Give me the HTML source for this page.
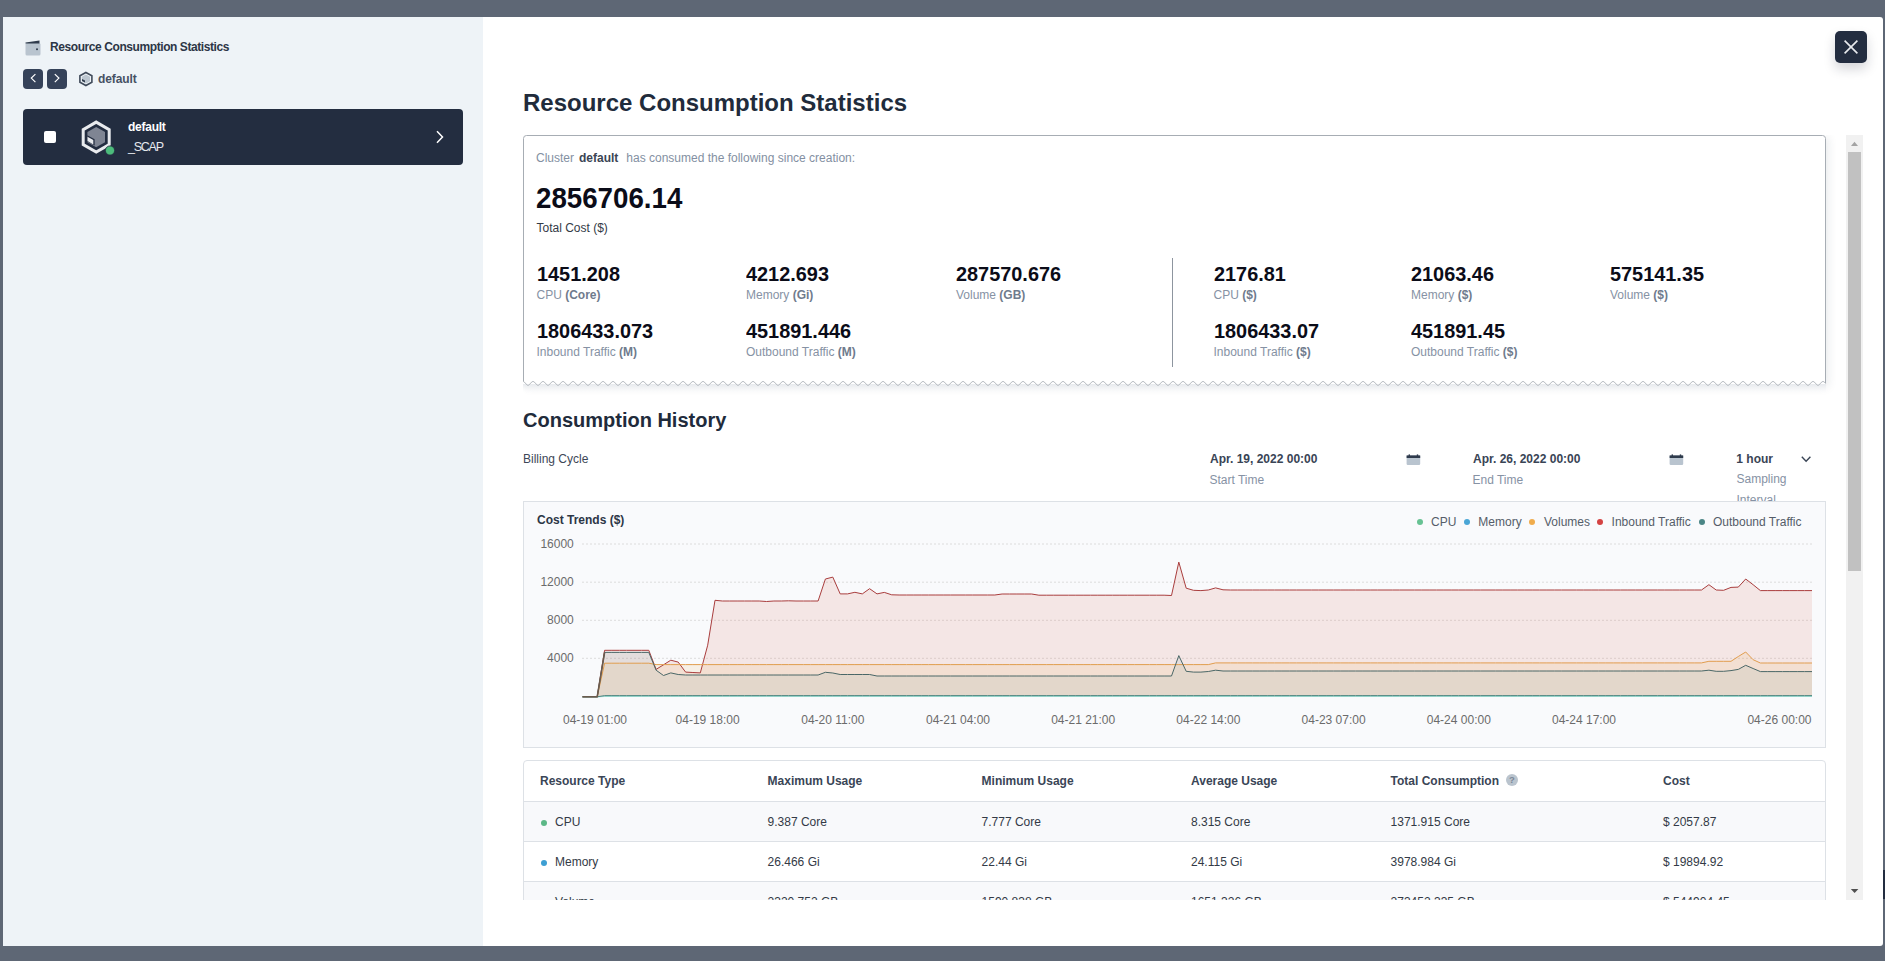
<!DOCTYPE html>
<html><head><meta charset="utf-8">
<style>
*{box-sizing:border-box}
html,body{margin:0;padding:0}
body{width:1885px;height:961px;overflow:hidden;background:#5e6775;font-family:"Liberation Sans",sans-serif;position:relative}
.a{position:absolute;white-space:nowrap;line-height:12px;font-size:12px}
#modal{position:absolute;left:3px;top:17px;width:1880px;height:929px;background:#fff;border-radius:3px;overflow:hidden}
#left{position:absolute;left:0;top:0;width:480px;height:929px;background:#eef3f7}
.navbtn{position:absolute;top:69px;width:20px;height:20px;background:#354259;border-radius:4px}
#card{position:absolute;left:23px;top:109px;width:440px;height:56px;background:#232d40;border-radius:4px}
#close{position:absolute;left:1835px;top:31px;width:32px;height:32px;background:#232d40;border-radius:5px;box-shadow:0 6px 12px rgba(20,30,50,.18)}
.lbl{color:#8692a4}
.lbl b{color:#6f7b8d}
.val{font-weight:bold;font-size:20px;line-height:20px;color:#0b0c18}
.th{font-weight:bold;color:#3a4556}
.td{color:#333a46}
</style></head>
<body>
<!-- left panel (page coords) -->
<div id="left" style="left:3px;top:17px"></div>
<div id="modalright" style="position:absolute;left:483px;top:17px;width:1400px;height:929px;background:#fff;border-radius:0 3px 3px 0"></div>

<!-- wallet icon -->
<svg class="a" style="left:25px;top:40px" width="16" height="16" viewBox="0 0 16 16">
  <rect x="0.5" y="3" width="15" height="12.5" rx="1.5" fill="#b9c4cf"/>
  <path d="M0.5 2.6 L14.5 0.6 L14.5 3.4 L0.5 3.6 Z" fill="#2f3b4c"/>
  <circle cx="12" cy="9.3" r="1" fill="#2f3b4c"/>
</svg>
<div class="a" style="left:50px;top:40.5px;font-weight:bold;color:#2c3646;letter-spacing:-0.42px">Resource Consumption Statistics</div>

<!-- nav buttons -->
<div class="navbtn" style="left:23px"></div>
<div class="navbtn" style="left:47px"></div>
<svg class="a" style="left:23px;top:69px" width="20" height="20"><path d="M12.4 5.1 L8.3 9.1 L12.4 13.1" fill="none" stroke="#fff" stroke-width="1.2"/></svg>
<svg class="a" style="left:47px;top:69px" width="20" height="20"><path d="M7.8 5.1 L11.9 9.1 L7.8 13.1" fill="none" stroke="#fff" stroke-width="1.2"/></svg>
<!-- hex small -->
<svg class="a" style="left:78px;top:71px" width="16" height="16" viewBox="0 0 16 16">
  <path d="M7.9 1.5 L13.9 4.8 L13.9 11.2 L7.9 14.5 L1.9 11.2 L1.9 4.8 Z" fill="none" stroke="#3f4a5a" stroke-width="1.6"/>
  <path d="M7.9 3.5 L12 5.8 L12 10.2 L7.9 12.5 L3.8 10.2 L3.8 5.8 Z" fill="#bcc6d0"/>
  <path d="M4.0 7.9 L7.0 9.6 L7.0 11.6 L4.0 9.9 Z" fill="#2f3b4c"/>
</svg>
<div class="a" style="left:98px;top:72.6px;font-weight:bold;color:#465163;letter-spacing:-0.1px">default</div>

<!-- dark card -->
<div id="card"></div>
<div class="a" style="left:44px;top:131px;width:12px;height:12px;background:#fff;border-radius:2px"></div>
<svg class="a" style="left:79px;top:119px" width="40" height="40" viewBox="0 0 40 40">
  <path d="M17.2 3.1 L30.2 10.6 L30.2 25.6 L17.2 33.1 L4.2 25.6 L4.2 10.6 Z" fill="none" stroke="#e9ebee" stroke-width="3"/>
  <path d="M17.2 7.9 L26.0 13.0 L26.0 23.2 L17.2 28.3 L8.4 23.2 L8.4 13.0 Z" fill="#7f8593"/>
  <path d="M8.3 16.2 L15.6 20.3 L15.6 26.6 L8.3 22.5 Z" fill="#232d40"/>
  <path d="M8.5 17.7 L14.3 21 L14.3 25.4 L8.5 22.1 Z" fill="#e9ebee"/>
  <circle cx="31" cy="31.5" r="4.6" fill="#4cbb7b" stroke="#232d40" stroke-width="0.8"/>
</svg>
<div class="a" style="left:128px;top:121px;font-weight:bold;color:#fff;letter-spacing:-0.25px">default</div>
<div class="a" style="left:128px;top:141.2px;color:#e6e9ee;letter-spacing:-1.25px;font-size:12.5px">_SCAP</div>
<svg class="a" style="left:432px;top:128px" width="14" height="18"><path d="M5 3.3 L10.5 9 L5 14.7" fill="none" stroke="#fff" stroke-width="1.5"/></svg>

<!-- close -->
<div id="close"></div>
<svg class="a" style="left:1835px;top:31px" width="32" height="32"><path d="M9.6 9.6 L22.4 22.4 M22.4 9.6 L9.6 22.4" stroke="#e8eaee" stroke-width="1.6"/></svg>

<!-- main title -->
<div class="a" style="left:523px;top:90.7px;font-size:24px;line-height:24px;font-weight:bold;color:#212b3b">Resource Consumption Statistics</div>

<!-- CONTENT -->
<div class="a" style="left:523px;top:135px;width:1303px;height:250px;background:#fff;box-shadow:2px 2px 9px rgba(30,45,70,.10);clip-path:inset(0px -30px -30px 2px)"></div>
<svg class="a" style="left:0;top:0" width="1885" height="961"><defs><linearGradient id="wg" x1="0" y1="0" x2="0" y2="1"><stop offset="0" stop-color="#e6e9ed"/><stop offset="1" stop-color="#fff" stop-opacity="0"/></linearGradient></defs><rect x="523" y="384" width="1303" height="10" fill="url(#wg)"/><path d="M523.5,381.59 L523.5,138.5 Q523.5,135.5 526.5,135.5 L1822.5,135.5 Q1825.5,135.5 1825.5,138.5 L1825.5,383.35 L1825.50,383.35 L1825.00,382.78 L1824.50,382.26 L1824.00,381.85 L1823.50,381.59 L1823.00,381.50 L1822.50,381.59 L1822.00,381.85 L1821.50,382.26 L1821.00,382.78 L1820.50,383.35 L1820.00,383.92 L1819.50,384.44 L1819.00,384.85 L1818.50,385.11 L1818.00,385.20 L1817.50,385.11 L1817.00,384.85 L1816.50,384.44 L1816.00,383.92 L1815.50,383.35 L1815.00,382.78 L1814.50,382.26 L1814.00,381.85 L1813.50,381.59 L1813.00,381.50 L1812.50,381.59 L1812.00,381.85 L1811.50,382.26 L1811.00,382.78 L1810.50,383.35 L1810.00,383.92 L1809.50,384.44 L1809.00,384.85 L1808.50,385.11 L1808.00,385.20 L1807.50,385.11 L1807.00,384.85 L1806.50,384.44 L1806.00,383.92 L1805.50,383.35 L1805.00,382.78 L1804.50,382.26 L1804.00,381.85 L1803.50,381.59 L1803.00,381.50 L1802.50,381.59 L1802.00,381.85 L1801.50,382.26 L1801.00,382.78 L1800.50,383.35 L1800.00,383.92 L1799.50,384.44 L1799.00,384.85 L1798.50,385.11 L1798.00,385.20 L1797.50,385.11 L1797.00,384.85 L1796.50,384.44 L1796.00,383.92 L1795.50,383.35 L1795.00,382.78 L1794.50,382.26 L1794.00,381.85 L1793.50,381.59 L1793.00,381.50 L1792.50,381.59 L1792.00,381.85 L1791.50,382.26 L1791.00,382.78 L1790.50,383.35 L1790.00,383.92 L1789.50,384.44 L1789.00,384.85 L1788.50,385.11 L1788.00,385.20 L1787.50,385.11 L1787.00,384.85 L1786.50,384.44 L1786.00,383.92 L1785.50,383.35 L1785.00,382.78 L1784.50,382.26 L1784.00,381.85 L1783.50,381.59 L1783.00,381.50 L1782.50,381.59 L1782.00,381.85 L1781.50,382.26 L1781.00,382.78 L1780.50,383.35 L1780.00,383.92 L1779.50,384.44 L1779.00,384.85 L1778.50,385.11 L1778.00,385.20 L1777.50,385.11 L1777.00,384.85 L1776.50,384.44 L1776.00,383.92 L1775.50,383.35 L1775.00,382.78 L1774.50,382.26 L1774.00,381.85 L1773.50,381.59 L1773.00,381.50 L1772.50,381.59 L1772.00,381.85 L1771.50,382.26 L1771.00,382.78 L1770.50,383.35 L1770.00,383.92 L1769.50,384.44 L1769.00,384.85 L1768.50,385.11 L1768.00,385.20 L1767.50,385.11 L1767.00,384.85 L1766.50,384.44 L1766.00,383.92 L1765.50,383.35 L1765.00,382.78 L1764.50,382.26 L1764.00,381.85 L1763.50,381.59 L1763.00,381.50 L1762.50,381.59 L1762.00,381.85 L1761.50,382.26 L1761.00,382.78 L1760.50,383.35 L1760.00,383.92 L1759.50,384.44 L1759.00,384.85 L1758.50,385.11 L1758.00,385.20 L1757.50,385.11 L1757.00,384.85 L1756.50,384.44 L1756.00,383.92 L1755.50,383.35 L1755.00,382.78 L1754.50,382.26 L1754.00,381.85 L1753.50,381.59 L1753.00,381.50 L1752.50,381.59 L1752.00,381.85 L1751.50,382.26 L1751.00,382.78 L1750.50,383.35 L1750.00,383.92 L1749.50,384.44 L1749.00,384.85 L1748.50,385.11 L1748.00,385.20 L1747.50,385.11 L1747.00,384.85 L1746.50,384.44 L1746.00,383.92 L1745.50,383.35 L1745.00,382.78 L1744.50,382.26 L1744.00,381.85 L1743.50,381.59 L1743.00,381.50 L1742.50,381.59 L1742.00,381.85 L1741.50,382.26 L1741.00,382.78 L1740.50,383.35 L1740.00,383.92 L1739.50,384.44 L1739.00,384.85 L1738.50,385.11 L1738.00,385.20 L1737.50,385.11 L1737.00,384.85 L1736.50,384.44 L1736.00,383.92 L1735.50,383.35 L1735.00,382.78 L1734.50,382.26 L1734.00,381.85 L1733.50,381.59 L1733.00,381.50 L1732.50,381.59 L1732.00,381.85 L1731.50,382.26 L1731.00,382.78 L1730.50,383.35 L1730.00,383.92 L1729.50,384.44 L1729.00,384.85 L1728.50,385.11 L1728.00,385.20 L1727.50,385.11 L1727.00,384.85 L1726.50,384.44 L1726.00,383.92 L1725.50,383.35 L1725.00,382.78 L1724.50,382.26 L1724.00,381.85 L1723.50,381.59 L1723.00,381.50 L1722.50,381.59 L1722.00,381.85 L1721.50,382.26 L1721.00,382.78 L1720.50,383.35 L1720.00,383.92 L1719.50,384.44 L1719.00,384.85 L1718.50,385.11 L1718.00,385.20 L1717.50,385.11 L1717.00,384.85 L1716.50,384.44 L1716.00,383.92 L1715.50,383.35 L1715.00,382.78 L1714.50,382.26 L1714.00,381.85 L1713.50,381.59 L1713.00,381.50 L1712.50,381.59 L1712.00,381.85 L1711.50,382.26 L1711.00,382.78 L1710.50,383.35 L1710.00,383.92 L1709.50,384.44 L1709.00,384.85 L1708.50,385.11 L1708.00,385.20 L1707.50,385.11 L1707.00,384.85 L1706.50,384.44 L1706.00,383.92 L1705.50,383.35 L1705.00,382.78 L1704.50,382.26 L1704.00,381.85 L1703.50,381.59 L1703.00,381.50 L1702.50,381.59 L1702.00,381.85 L1701.50,382.26 L1701.00,382.78 L1700.50,383.35 L1700.00,383.92 L1699.50,384.44 L1699.00,384.85 L1698.50,385.11 L1698.00,385.20 L1697.50,385.11 L1697.00,384.85 L1696.50,384.44 L1696.00,383.92 L1695.50,383.35 L1695.00,382.78 L1694.50,382.26 L1694.00,381.85 L1693.50,381.59 L1693.00,381.50 L1692.50,381.59 L1692.00,381.85 L1691.50,382.26 L1691.00,382.78 L1690.50,383.35 L1690.00,383.92 L1689.50,384.44 L1689.00,384.85 L1688.50,385.11 L1688.00,385.20 L1687.50,385.11 L1687.00,384.85 L1686.50,384.44 L1686.00,383.92 L1685.50,383.35 L1685.00,382.78 L1684.50,382.26 L1684.00,381.85 L1683.50,381.59 L1683.00,381.50 L1682.50,381.59 L1682.00,381.85 L1681.50,382.26 L1681.00,382.78 L1680.50,383.35 L1680.00,383.92 L1679.50,384.44 L1679.00,384.85 L1678.50,385.11 L1678.00,385.20 L1677.50,385.11 L1677.00,384.85 L1676.50,384.44 L1676.00,383.92 L1675.50,383.35 L1675.00,382.78 L1674.50,382.26 L1674.00,381.85 L1673.50,381.59 L1673.00,381.50 L1672.50,381.59 L1672.00,381.85 L1671.50,382.26 L1671.00,382.78 L1670.50,383.35 L1670.00,383.92 L1669.50,384.44 L1669.00,384.85 L1668.50,385.11 L1668.00,385.20 L1667.50,385.11 L1667.00,384.85 L1666.50,384.44 L1666.00,383.92 L1665.50,383.35 L1665.00,382.78 L1664.50,382.26 L1664.00,381.85 L1663.50,381.59 L1663.00,381.50 L1662.50,381.59 L1662.00,381.85 L1661.50,382.26 L1661.00,382.78 L1660.50,383.35 L1660.00,383.92 L1659.50,384.44 L1659.00,384.85 L1658.50,385.11 L1658.00,385.20 L1657.50,385.11 L1657.00,384.85 L1656.50,384.44 L1656.00,383.92 L1655.50,383.35 L1655.00,382.78 L1654.50,382.26 L1654.00,381.85 L1653.50,381.59 L1653.00,381.50 L1652.50,381.59 L1652.00,381.85 L1651.50,382.26 L1651.00,382.78 L1650.50,383.35 L1650.00,383.92 L1649.50,384.44 L1649.00,384.85 L1648.50,385.11 L1648.00,385.20 L1647.50,385.11 L1647.00,384.85 L1646.50,384.44 L1646.00,383.92 L1645.50,383.35 L1645.00,382.78 L1644.50,382.26 L1644.00,381.85 L1643.50,381.59 L1643.00,381.50 L1642.50,381.59 L1642.00,381.85 L1641.50,382.26 L1641.00,382.78 L1640.50,383.35 L1640.00,383.92 L1639.50,384.44 L1639.00,384.85 L1638.50,385.11 L1638.00,385.20 L1637.50,385.11 L1637.00,384.85 L1636.50,384.44 L1636.00,383.92 L1635.50,383.35 L1635.00,382.78 L1634.50,382.26 L1634.00,381.85 L1633.50,381.59 L1633.00,381.50 L1632.50,381.59 L1632.00,381.85 L1631.50,382.26 L1631.00,382.78 L1630.50,383.35 L1630.00,383.92 L1629.50,384.44 L1629.00,384.85 L1628.50,385.11 L1628.00,385.20 L1627.50,385.11 L1627.00,384.85 L1626.50,384.44 L1626.00,383.92 L1625.50,383.35 L1625.00,382.78 L1624.50,382.26 L1624.00,381.85 L1623.50,381.59 L1623.00,381.50 L1622.50,381.59 L1622.00,381.85 L1621.50,382.26 L1621.00,382.78 L1620.50,383.35 L1620.00,383.92 L1619.50,384.44 L1619.00,384.85 L1618.50,385.11 L1618.00,385.20 L1617.50,385.11 L1617.00,384.85 L1616.50,384.44 L1616.00,383.92 L1615.50,383.35 L1615.00,382.78 L1614.50,382.26 L1614.00,381.85 L1613.50,381.59 L1613.00,381.50 L1612.50,381.59 L1612.00,381.85 L1611.50,382.26 L1611.00,382.78 L1610.50,383.35 L1610.00,383.92 L1609.50,384.44 L1609.00,384.85 L1608.50,385.11 L1608.00,385.20 L1607.50,385.11 L1607.00,384.85 L1606.50,384.44 L1606.00,383.92 L1605.50,383.35 L1605.00,382.78 L1604.50,382.26 L1604.00,381.85 L1603.50,381.59 L1603.00,381.50 L1602.50,381.59 L1602.00,381.85 L1601.50,382.26 L1601.00,382.78 L1600.50,383.35 L1600.00,383.92 L1599.50,384.44 L1599.00,384.85 L1598.50,385.11 L1598.00,385.20 L1597.50,385.11 L1597.00,384.85 L1596.50,384.44 L1596.00,383.92 L1595.50,383.35 L1595.00,382.78 L1594.50,382.26 L1594.00,381.85 L1593.50,381.59 L1593.00,381.50 L1592.50,381.59 L1592.00,381.85 L1591.50,382.26 L1591.00,382.78 L1590.50,383.35 L1590.00,383.92 L1589.50,384.44 L1589.00,384.85 L1588.50,385.11 L1588.00,385.20 L1587.50,385.11 L1587.00,384.85 L1586.50,384.44 L1586.00,383.92 L1585.50,383.35 L1585.00,382.78 L1584.50,382.26 L1584.00,381.85 L1583.50,381.59 L1583.00,381.50 L1582.50,381.59 L1582.00,381.85 L1581.50,382.26 L1581.00,382.78 L1580.50,383.35 L1580.00,383.92 L1579.50,384.44 L1579.00,384.85 L1578.50,385.11 L1578.00,385.20 L1577.50,385.11 L1577.00,384.85 L1576.50,384.44 L1576.00,383.92 L1575.50,383.35 L1575.00,382.78 L1574.50,382.26 L1574.00,381.85 L1573.50,381.59 L1573.00,381.50 L1572.50,381.59 L1572.00,381.85 L1571.50,382.26 L1571.00,382.78 L1570.50,383.35 L1570.00,383.92 L1569.50,384.44 L1569.00,384.85 L1568.50,385.11 L1568.00,385.20 L1567.50,385.11 L1567.00,384.85 L1566.50,384.44 L1566.00,383.92 L1565.50,383.35 L1565.00,382.78 L1564.50,382.26 L1564.00,381.85 L1563.50,381.59 L1563.00,381.50 L1562.50,381.59 L1562.00,381.85 L1561.50,382.26 L1561.00,382.78 L1560.50,383.35 L1560.00,383.92 L1559.50,384.44 L1559.00,384.85 L1558.50,385.11 L1558.00,385.20 L1557.50,385.11 L1557.00,384.85 L1556.50,384.44 L1556.00,383.92 L1555.50,383.35 L1555.00,382.78 L1554.50,382.26 L1554.00,381.85 L1553.50,381.59 L1553.00,381.50 L1552.50,381.59 L1552.00,381.85 L1551.50,382.26 L1551.00,382.78 L1550.50,383.35 L1550.00,383.92 L1549.50,384.44 L1549.00,384.85 L1548.50,385.11 L1548.00,385.20 L1547.50,385.11 L1547.00,384.85 L1546.50,384.44 L1546.00,383.92 L1545.50,383.35 L1545.00,382.78 L1544.50,382.26 L1544.00,381.85 L1543.50,381.59 L1543.00,381.50 L1542.50,381.59 L1542.00,381.85 L1541.50,382.26 L1541.00,382.78 L1540.50,383.35 L1540.00,383.92 L1539.50,384.44 L1539.00,384.85 L1538.50,385.11 L1538.00,385.20 L1537.50,385.11 L1537.00,384.85 L1536.50,384.44 L1536.00,383.92 L1535.50,383.35 L1535.00,382.78 L1534.50,382.26 L1534.00,381.85 L1533.50,381.59 L1533.00,381.50 L1532.50,381.59 L1532.00,381.85 L1531.50,382.26 L1531.00,382.78 L1530.50,383.35 L1530.00,383.92 L1529.50,384.44 L1529.00,384.85 L1528.50,385.11 L1528.00,385.20 L1527.50,385.11 L1527.00,384.85 L1526.50,384.44 L1526.00,383.92 L1525.50,383.35 L1525.00,382.78 L1524.50,382.26 L1524.00,381.85 L1523.50,381.59 L1523.00,381.50 L1522.50,381.59 L1522.00,381.85 L1521.50,382.26 L1521.00,382.78 L1520.50,383.35 L1520.00,383.92 L1519.50,384.44 L1519.00,384.85 L1518.50,385.11 L1518.00,385.20 L1517.50,385.11 L1517.00,384.85 L1516.50,384.44 L1516.00,383.92 L1515.50,383.35 L1515.00,382.78 L1514.50,382.26 L1514.00,381.85 L1513.50,381.59 L1513.00,381.50 L1512.50,381.59 L1512.00,381.85 L1511.50,382.26 L1511.00,382.78 L1510.50,383.35 L1510.00,383.92 L1509.50,384.44 L1509.00,384.85 L1508.50,385.11 L1508.00,385.20 L1507.50,385.11 L1507.00,384.85 L1506.50,384.44 L1506.00,383.92 L1505.50,383.35 L1505.00,382.78 L1504.50,382.26 L1504.00,381.85 L1503.50,381.59 L1503.00,381.50 L1502.50,381.59 L1502.00,381.85 L1501.50,382.26 L1501.00,382.78 L1500.50,383.35 L1500.00,383.92 L1499.50,384.44 L1499.00,384.85 L1498.50,385.11 L1498.00,385.20 L1497.50,385.11 L1497.00,384.85 L1496.50,384.44 L1496.00,383.92 L1495.50,383.35 L1495.00,382.78 L1494.50,382.26 L1494.00,381.85 L1493.50,381.59 L1493.00,381.50 L1492.50,381.59 L1492.00,381.85 L1491.50,382.26 L1491.00,382.78 L1490.50,383.35 L1490.00,383.92 L1489.50,384.44 L1489.00,384.85 L1488.50,385.11 L1488.00,385.20 L1487.50,385.11 L1487.00,384.85 L1486.50,384.44 L1486.00,383.92 L1485.50,383.35 L1485.00,382.78 L1484.50,382.26 L1484.00,381.85 L1483.50,381.59 L1483.00,381.50 L1482.50,381.59 L1482.00,381.85 L1481.50,382.26 L1481.00,382.78 L1480.50,383.35 L1480.00,383.92 L1479.50,384.44 L1479.00,384.85 L1478.50,385.11 L1478.00,385.20 L1477.50,385.11 L1477.00,384.85 L1476.50,384.44 L1476.00,383.92 L1475.50,383.35 L1475.00,382.78 L1474.50,382.26 L1474.00,381.85 L1473.50,381.59 L1473.00,381.50 L1472.50,381.59 L1472.00,381.85 L1471.50,382.26 L1471.00,382.78 L1470.50,383.35 L1470.00,383.92 L1469.50,384.44 L1469.00,384.85 L1468.50,385.11 L1468.00,385.20 L1467.50,385.11 L1467.00,384.85 L1466.50,384.44 L1466.00,383.92 L1465.50,383.35 L1465.00,382.78 L1464.50,382.26 L1464.00,381.85 L1463.50,381.59 L1463.00,381.50 L1462.50,381.59 L1462.00,381.85 L1461.50,382.26 L1461.00,382.78 L1460.50,383.35 L1460.00,383.92 L1459.50,384.44 L1459.00,384.85 L1458.50,385.11 L1458.00,385.20 L1457.50,385.11 L1457.00,384.85 L1456.50,384.44 L1456.00,383.92 L1455.50,383.35 L1455.00,382.78 L1454.50,382.26 L1454.00,381.85 L1453.50,381.59 L1453.00,381.50 L1452.50,381.59 L1452.00,381.85 L1451.50,382.26 L1451.00,382.78 L1450.50,383.35 L1450.00,383.92 L1449.50,384.44 L1449.00,384.85 L1448.50,385.11 L1448.00,385.20 L1447.50,385.11 L1447.00,384.85 L1446.50,384.44 L1446.00,383.92 L1445.50,383.35 L1445.00,382.78 L1444.50,382.26 L1444.00,381.85 L1443.50,381.59 L1443.00,381.50 L1442.50,381.59 L1442.00,381.85 L1441.50,382.26 L1441.00,382.78 L1440.50,383.35 L1440.00,383.92 L1439.50,384.44 L1439.00,384.85 L1438.50,385.11 L1438.00,385.20 L1437.50,385.11 L1437.00,384.85 L1436.50,384.44 L1436.00,383.92 L1435.50,383.35 L1435.00,382.78 L1434.50,382.26 L1434.00,381.85 L1433.50,381.59 L1433.00,381.50 L1432.50,381.59 L1432.00,381.85 L1431.50,382.26 L1431.00,382.78 L1430.50,383.35 L1430.00,383.92 L1429.50,384.44 L1429.00,384.85 L1428.50,385.11 L1428.00,385.20 L1427.50,385.11 L1427.00,384.85 L1426.50,384.44 L1426.00,383.92 L1425.50,383.35 L1425.00,382.78 L1424.50,382.26 L1424.00,381.85 L1423.50,381.59 L1423.00,381.50 L1422.50,381.59 L1422.00,381.85 L1421.50,382.26 L1421.00,382.78 L1420.50,383.35 L1420.00,383.92 L1419.50,384.44 L1419.00,384.85 L1418.50,385.11 L1418.00,385.20 L1417.50,385.11 L1417.00,384.85 L1416.50,384.44 L1416.00,383.92 L1415.50,383.35 L1415.00,382.78 L1414.50,382.26 L1414.00,381.85 L1413.50,381.59 L1413.00,381.50 L1412.50,381.59 L1412.00,381.85 L1411.50,382.26 L1411.00,382.78 L1410.50,383.35 L1410.00,383.92 L1409.50,384.44 L1409.00,384.85 L1408.50,385.11 L1408.00,385.20 L1407.50,385.11 L1407.00,384.85 L1406.50,384.44 L1406.00,383.92 L1405.50,383.35 L1405.00,382.78 L1404.50,382.26 L1404.00,381.85 L1403.50,381.59 L1403.00,381.50 L1402.50,381.59 L1402.00,381.85 L1401.50,382.26 L1401.00,382.78 L1400.50,383.35 L1400.00,383.92 L1399.50,384.44 L1399.00,384.85 L1398.50,385.11 L1398.00,385.20 L1397.50,385.11 L1397.00,384.85 L1396.50,384.44 L1396.00,383.92 L1395.50,383.35 L1395.00,382.78 L1394.50,382.26 L1394.00,381.85 L1393.50,381.59 L1393.00,381.50 L1392.50,381.59 L1392.00,381.85 L1391.50,382.26 L1391.00,382.78 L1390.50,383.35 L1390.00,383.92 L1389.50,384.44 L1389.00,384.85 L1388.50,385.11 L1388.00,385.20 L1387.50,385.11 L1387.00,384.85 L1386.50,384.44 L1386.00,383.92 L1385.50,383.35 L1385.00,382.78 L1384.50,382.26 L1384.00,381.85 L1383.50,381.59 L1383.00,381.50 L1382.50,381.59 L1382.00,381.85 L1381.50,382.26 L1381.00,382.78 L1380.50,383.35 L1380.00,383.92 L1379.50,384.44 L1379.00,384.85 L1378.50,385.11 L1378.00,385.20 L1377.50,385.11 L1377.00,384.85 L1376.50,384.44 L1376.00,383.92 L1375.50,383.35 L1375.00,382.78 L1374.50,382.26 L1374.00,381.85 L1373.50,381.59 L1373.00,381.50 L1372.50,381.59 L1372.00,381.85 L1371.50,382.26 L1371.00,382.78 L1370.50,383.35 L1370.00,383.92 L1369.50,384.44 L1369.00,384.85 L1368.50,385.11 L1368.00,385.20 L1367.50,385.11 L1367.00,384.85 L1366.50,384.44 L1366.00,383.92 L1365.50,383.35 L1365.00,382.78 L1364.50,382.26 L1364.00,381.85 L1363.50,381.59 L1363.00,381.50 L1362.50,381.59 L1362.00,381.85 L1361.50,382.26 L1361.00,382.78 L1360.50,383.35 L1360.00,383.92 L1359.50,384.44 L1359.00,384.85 L1358.50,385.11 L1358.00,385.20 L1357.50,385.11 L1357.00,384.85 L1356.50,384.44 L1356.00,383.92 L1355.50,383.35 L1355.00,382.78 L1354.50,382.26 L1354.00,381.85 L1353.50,381.59 L1353.00,381.50 L1352.50,381.59 L1352.00,381.85 L1351.50,382.26 L1351.00,382.78 L1350.50,383.35 L1350.00,383.92 L1349.50,384.44 L1349.00,384.85 L1348.50,385.11 L1348.00,385.20 L1347.50,385.11 L1347.00,384.85 L1346.50,384.44 L1346.00,383.92 L1345.50,383.35 L1345.00,382.78 L1344.50,382.26 L1344.00,381.85 L1343.50,381.59 L1343.00,381.50 L1342.50,381.59 L1342.00,381.85 L1341.50,382.26 L1341.00,382.78 L1340.50,383.35 L1340.00,383.92 L1339.50,384.44 L1339.00,384.85 L1338.50,385.11 L1338.00,385.20 L1337.50,385.11 L1337.00,384.85 L1336.50,384.44 L1336.00,383.92 L1335.50,383.35 L1335.00,382.78 L1334.50,382.26 L1334.00,381.85 L1333.50,381.59 L1333.00,381.50 L1332.50,381.59 L1332.00,381.85 L1331.50,382.26 L1331.00,382.78 L1330.50,383.35 L1330.00,383.92 L1329.50,384.44 L1329.00,384.85 L1328.50,385.11 L1328.00,385.20 L1327.50,385.11 L1327.00,384.85 L1326.50,384.44 L1326.00,383.92 L1325.50,383.35 L1325.00,382.78 L1324.50,382.26 L1324.00,381.85 L1323.50,381.59 L1323.00,381.50 L1322.50,381.59 L1322.00,381.85 L1321.50,382.26 L1321.00,382.78 L1320.50,383.35 L1320.00,383.92 L1319.50,384.44 L1319.00,384.85 L1318.50,385.11 L1318.00,385.20 L1317.50,385.11 L1317.00,384.85 L1316.50,384.44 L1316.00,383.92 L1315.50,383.35 L1315.00,382.78 L1314.50,382.26 L1314.00,381.85 L1313.50,381.59 L1313.00,381.50 L1312.50,381.59 L1312.00,381.85 L1311.50,382.26 L1311.00,382.78 L1310.50,383.35 L1310.00,383.92 L1309.50,384.44 L1309.00,384.85 L1308.50,385.11 L1308.00,385.20 L1307.50,385.11 L1307.00,384.85 L1306.50,384.44 L1306.00,383.92 L1305.50,383.35 L1305.00,382.78 L1304.50,382.26 L1304.00,381.85 L1303.50,381.59 L1303.00,381.50 L1302.50,381.59 L1302.00,381.85 L1301.50,382.26 L1301.00,382.78 L1300.50,383.35 L1300.00,383.92 L1299.50,384.44 L1299.00,384.85 L1298.50,385.11 L1298.00,385.20 L1297.50,385.11 L1297.00,384.85 L1296.50,384.44 L1296.00,383.92 L1295.50,383.35 L1295.00,382.78 L1294.50,382.26 L1294.00,381.85 L1293.50,381.59 L1293.00,381.50 L1292.50,381.59 L1292.00,381.85 L1291.50,382.26 L1291.00,382.78 L1290.50,383.35 L1290.00,383.92 L1289.50,384.44 L1289.00,384.85 L1288.50,385.11 L1288.00,385.20 L1287.50,385.11 L1287.00,384.85 L1286.50,384.44 L1286.00,383.92 L1285.50,383.35 L1285.00,382.78 L1284.50,382.26 L1284.00,381.85 L1283.50,381.59 L1283.00,381.50 L1282.50,381.59 L1282.00,381.85 L1281.50,382.26 L1281.00,382.78 L1280.50,383.35 L1280.00,383.92 L1279.50,384.44 L1279.00,384.85 L1278.50,385.11 L1278.00,385.20 L1277.50,385.11 L1277.00,384.85 L1276.50,384.44 L1276.00,383.92 L1275.50,383.35 L1275.00,382.78 L1274.50,382.26 L1274.00,381.85 L1273.50,381.59 L1273.00,381.50 L1272.50,381.59 L1272.00,381.85 L1271.50,382.26 L1271.00,382.78 L1270.50,383.35 L1270.00,383.92 L1269.50,384.44 L1269.00,384.85 L1268.50,385.11 L1268.00,385.20 L1267.50,385.11 L1267.00,384.85 L1266.50,384.44 L1266.00,383.92 L1265.50,383.35 L1265.00,382.78 L1264.50,382.26 L1264.00,381.85 L1263.50,381.59 L1263.00,381.50 L1262.50,381.59 L1262.00,381.85 L1261.50,382.26 L1261.00,382.78 L1260.50,383.35 L1260.00,383.92 L1259.50,384.44 L1259.00,384.85 L1258.50,385.11 L1258.00,385.20 L1257.50,385.11 L1257.00,384.85 L1256.50,384.44 L1256.00,383.92 L1255.50,383.35 L1255.00,382.78 L1254.50,382.26 L1254.00,381.85 L1253.50,381.59 L1253.00,381.50 L1252.50,381.59 L1252.00,381.85 L1251.50,382.26 L1251.00,382.78 L1250.50,383.35 L1250.00,383.92 L1249.50,384.44 L1249.00,384.85 L1248.50,385.11 L1248.00,385.20 L1247.50,385.11 L1247.00,384.85 L1246.50,384.44 L1246.00,383.92 L1245.50,383.35 L1245.00,382.78 L1244.50,382.26 L1244.00,381.85 L1243.50,381.59 L1243.00,381.50 L1242.50,381.59 L1242.00,381.85 L1241.50,382.26 L1241.00,382.78 L1240.50,383.35 L1240.00,383.92 L1239.50,384.44 L1239.00,384.85 L1238.50,385.11 L1238.00,385.20 L1237.50,385.11 L1237.00,384.85 L1236.50,384.44 L1236.00,383.92 L1235.50,383.35 L1235.00,382.78 L1234.50,382.26 L1234.00,381.85 L1233.50,381.59 L1233.00,381.50 L1232.50,381.59 L1232.00,381.85 L1231.50,382.26 L1231.00,382.78 L1230.50,383.35 L1230.00,383.92 L1229.50,384.44 L1229.00,384.85 L1228.50,385.11 L1228.00,385.20 L1227.50,385.11 L1227.00,384.85 L1226.50,384.44 L1226.00,383.92 L1225.50,383.35 L1225.00,382.78 L1224.50,382.26 L1224.00,381.85 L1223.50,381.59 L1223.00,381.50 L1222.50,381.59 L1222.00,381.85 L1221.50,382.26 L1221.00,382.78 L1220.50,383.35 L1220.00,383.92 L1219.50,384.44 L1219.00,384.85 L1218.50,385.11 L1218.00,385.20 L1217.50,385.11 L1217.00,384.85 L1216.50,384.44 L1216.00,383.92 L1215.50,383.35 L1215.00,382.78 L1214.50,382.26 L1214.00,381.85 L1213.50,381.59 L1213.00,381.50 L1212.50,381.59 L1212.00,381.85 L1211.50,382.26 L1211.00,382.78 L1210.50,383.35 L1210.00,383.92 L1209.50,384.44 L1209.00,384.85 L1208.50,385.11 L1208.00,385.20 L1207.50,385.11 L1207.00,384.85 L1206.50,384.44 L1206.00,383.92 L1205.50,383.35 L1205.00,382.78 L1204.50,382.26 L1204.00,381.85 L1203.50,381.59 L1203.00,381.50 L1202.50,381.59 L1202.00,381.85 L1201.50,382.26 L1201.00,382.78 L1200.50,383.35 L1200.00,383.92 L1199.50,384.44 L1199.00,384.85 L1198.50,385.11 L1198.00,385.20 L1197.50,385.11 L1197.00,384.85 L1196.50,384.44 L1196.00,383.92 L1195.50,383.35 L1195.00,382.78 L1194.50,382.26 L1194.00,381.85 L1193.50,381.59 L1193.00,381.50 L1192.50,381.59 L1192.00,381.85 L1191.50,382.26 L1191.00,382.78 L1190.50,383.35 L1190.00,383.92 L1189.50,384.44 L1189.00,384.85 L1188.50,385.11 L1188.00,385.20 L1187.50,385.11 L1187.00,384.85 L1186.50,384.44 L1186.00,383.92 L1185.50,383.35 L1185.00,382.78 L1184.50,382.26 L1184.00,381.85 L1183.50,381.59 L1183.00,381.50 L1182.50,381.59 L1182.00,381.85 L1181.50,382.26 L1181.00,382.78 L1180.50,383.35 L1180.00,383.92 L1179.50,384.44 L1179.00,384.85 L1178.50,385.11 L1178.00,385.20 L1177.50,385.11 L1177.00,384.85 L1176.50,384.44 L1176.00,383.92 L1175.50,383.35 L1175.00,382.78 L1174.50,382.26 L1174.00,381.85 L1173.50,381.59 L1173.00,381.50 L1172.50,381.59 L1172.00,381.85 L1171.50,382.26 L1171.00,382.78 L1170.50,383.35 L1170.00,383.92 L1169.50,384.44 L1169.00,384.85 L1168.50,385.11 L1168.00,385.20 L1167.50,385.11 L1167.00,384.85 L1166.50,384.44 L1166.00,383.92 L1165.50,383.35 L1165.00,382.78 L1164.50,382.26 L1164.00,381.85 L1163.50,381.59 L1163.00,381.50 L1162.50,381.59 L1162.00,381.85 L1161.50,382.26 L1161.00,382.78 L1160.50,383.35 L1160.00,383.92 L1159.50,384.44 L1159.00,384.85 L1158.50,385.11 L1158.00,385.20 L1157.50,385.11 L1157.00,384.85 L1156.50,384.44 L1156.00,383.92 L1155.50,383.35 L1155.00,382.78 L1154.50,382.26 L1154.00,381.85 L1153.50,381.59 L1153.00,381.50 L1152.50,381.59 L1152.00,381.85 L1151.50,382.26 L1151.00,382.78 L1150.50,383.35 L1150.00,383.92 L1149.50,384.44 L1149.00,384.85 L1148.50,385.11 L1148.00,385.20 L1147.50,385.11 L1147.00,384.85 L1146.50,384.44 L1146.00,383.92 L1145.50,383.35 L1145.00,382.78 L1144.50,382.26 L1144.00,381.85 L1143.50,381.59 L1143.00,381.50 L1142.50,381.59 L1142.00,381.85 L1141.50,382.26 L1141.00,382.78 L1140.50,383.35 L1140.00,383.92 L1139.50,384.44 L1139.00,384.85 L1138.50,385.11 L1138.00,385.20 L1137.50,385.11 L1137.00,384.85 L1136.50,384.44 L1136.00,383.92 L1135.50,383.35 L1135.00,382.78 L1134.50,382.26 L1134.00,381.85 L1133.50,381.59 L1133.00,381.50 L1132.50,381.59 L1132.00,381.85 L1131.50,382.26 L1131.00,382.78 L1130.50,383.35 L1130.00,383.92 L1129.50,384.44 L1129.00,384.85 L1128.50,385.11 L1128.00,385.20 L1127.50,385.11 L1127.00,384.85 L1126.50,384.44 L1126.00,383.92 L1125.50,383.35 L1125.00,382.78 L1124.50,382.26 L1124.00,381.85 L1123.50,381.59 L1123.00,381.50 L1122.50,381.59 L1122.00,381.85 L1121.50,382.26 L1121.00,382.78 L1120.50,383.35 L1120.00,383.92 L1119.50,384.44 L1119.00,384.85 L1118.50,385.11 L1118.00,385.20 L1117.50,385.11 L1117.00,384.85 L1116.50,384.44 L1116.00,383.92 L1115.50,383.35 L1115.00,382.78 L1114.50,382.26 L1114.00,381.85 L1113.50,381.59 L1113.00,381.50 L1112.50,381.59 L1112.00,381.85 L1111.50,382.26 L1111.00,382.78 L1110.50,383.35 L1110.00,383.92 L1109.50,384.44 L1109.00,384.85 L1108.50,385.11 L1108.00,385.20 L1107.50,385.11 L1107.00,384.85 L1106.50,384.44 L1106.00,383.92 L1105.50,383.35 L1105.00,382.78 L1104.50,382.26 L1104.00,381.85 L1103.50,381.59 L1103.00,381.50 L1102.50,381.59 L1102.00,381.85 L1101.50,382.26 L1101.00,382.78 L1100.50,383.35 L1100.00,383.92 L1099.50,384.44 L1099.00,384.85 L1098.50,385.11 L1098.00,385.20 L1097.50,385.11 L1097.00,384.85 L1096.50,384.44 L1096.00,383.92 L1095.50,383.35 L1095.00,382.78 L1094.50,382.26 L1094.00,381.85 L1093.50,381.59 L1093.00,381.50 L1092.50,381.59 L1092.00,381.85 L1091.50,382.26 L1091.00,382.78 L1090.50,383.35 L1090.00,383.92 L1089.50,384.44 L1089.00,384.85 L1088.50,385.11 L1088.00,385.20 L1087.50,385.11 L1087.00,384.85 L1086.50,384.44 L1086.00,383.92 L1085.50,383.35 L1085.00,382.78 L1084.50,382.26 L1084.00,381.85 L1083.50,381.59 L1083.00,381.50 L1082.50,381.59 L1082.00,381.85 L1081.50,382.26 L1081.00,382.78 L1080.50,383.35 L1080.00,383.92 L1079.50,384.44 L1079.00,384.85 L1078.50,385.11 L1078.00,385.20 L1077.50,385.11 L1077.00,384.85 L1076.50,384.44 L1076.00,383.92 L1075.50,383.35 L1075.00,382.78 L1074.50,382.26 L1074.00,381.85 L1073.50,381.59 L1073.00,381.50 L1072.50,381.59 L1072.00,381.85 L1071.50,382.26 L1071.00,382.78 L1070.50,383.35 L1070.00,383.92 L1069.50,384.44 L1069.00,384.85 L1068.50,385.11 L1068.00,385.20 L1067.50,385.11 L1067.00,384.85 L1066.50,384.44 L1066.00,383.92 L1065.50,383.35 L1065.00,382.78 L1064.50,382.26 L1064.00,381.85 L1063.50,381.59 L1063.00,381.50 L1062.50,381.59 L1062.00,381.85 L1061.50,382.26 L1061.00,382.78 L1060.50,383.35 L1060.00,383.92 L1059.50,384.44 L1059.00,384.85 L1058.50,385.11 L1058.00,385.20 L1057.50,385.11 L1057.00,384.85 L1056.50,384.44 L1056.00,383.92 L1055.50,383.35 L1055.00,382.78 L1054.50,382.26 L1054.00,381.85 L1053.50,381.59 L1053.00,381.50 L1052.50,381.59 L1052.00,381.85 L1051.50,382.26 L1051.00,382.78 L1050.50,383.35 L1050.00,383.92 L1049.50,384.44 L1049.00,384.85 L1048.50,385.11 L1048.00,385.20 L1047.50,385.11 L1047.00,384.85 L1046.50,384.44 L1046.00,383.92 L1045.50,383.35 L1045.00,382.78 L1044.50,382.26 L1044.00,381.85 L1043.50,381.59 L1043.00,381.50 L1042.50,381.59 L1042.00,381.85 L1041.50,382.26 L1041.00,382.78 L1040.50,383.35 L1040.00,383.92 L1039.50,384.44 L1039.00,384.85 L1038.50,385.11 L1038.00,385.20 L1037.50,385.11 L1037.00,384.85 L1036.50,384.44 L1036.00,383.92 L1035.50,383.35 L1035.00,382.78 L1034.50,382.26 L1034.00,381.85 L1033.50,381.59 L1033.00,381.50 L1032.50,381.59 L1032.00,381.85 L1031.50,382.26 L1031.00,382.78 L1030.50,383.35 L1030.00,383.92 L1029.50,384.44 L1029.00,384.85 L1028.50,385.11 L1028.00,385.20 L1027.50,385.11 L1027.00,384.85 L1026.50,384.44 L1026.00,383.92 L1025.50,383.35 L1025.00,382.78 L1024.50,382.26 L1024.00,381.85 L1023.50,381.59 L1023.00,381.50 L1022.50,381.59 L1022.00,381.85 L1021.50,382.26 L1021.00,382.78 L1020.50,383.35 L1020.00,383.92 L1019.50,384.44 L1019.00,384.85 L1018.50,385.11 L1018.00,385.20 L1017.50,385.11 L1017.00,384.85 L1016.50,384.44 L1016.00,383.92 L1015.50,383.35 L1015.00,382.78 L1014.50,382.26 L1014.00,381.85 L1013.50,381.59 L1013.00,381.50 L1012.50,381.59 L1012.00,381.85 L1011.50,382.26 L1011.00,382.78 L1010.50,383.35 L1010.00,383.92 L1009.50,384.44 L1009.00,384.85 L1008.50,385.11 L1008.00,385.20 L1007.50,385.11 L1007.00,384.85 L1006.50,384.44 L1006.00,383.92 L1005.50,383.35 L1005.00,382.78 L1004.50,382.26 L1004.00,381.85 L1003.50,381.59 L1003.00,381.50 L1002.50,381.59 L1002.00,381.85 L1001.50,382.26 L1001.00,382.78 L1000.50,383.35 L1000.00,383.92 L999.50,384.44 L999.00,384.85 L998.50,385.11 L998.00,385.20 L997.50,385.11 L997.00,384.85 L996.50,384.44 L996.00,383.92 L995.50,383.35 L995.00,382.78 L994.50,382.26 L994.00,381.85 L993.50,381.59 L993.00,381.50 L992.50,381.59 L992.00,381.85 L991.50,382.26 L991.00,382.78 L990.50,383.35 L990.00,383.92 L989.50,384.44 L989.00,384.85 L988.50,385.11 L988.00,385.20 L987.50,385.11 L987.00,384.85 L986.50,384.44 L986.00,383.92 L985.50,383.35 L985.00,382.78 L984.50,382.26 L984.00,381.85 L983.50,381.59 L983.00,381.50 L982.50,381.59 L982.00,381.85 L981.50,382.26 L981.00,382.78 L980.50,383.35 L980.00,383.92 L979.50,384.44 L979.00,384.85 L978.50,385.11 L978.00,385.20 L977.50,385.11 L977.00,384.85 L976.50,384.44 L976.00,383.92 L975.50,383.35 L975.00,382.78 L974.50,382.26 L974.00,381.85 L973.50,381.59 L973.00,381.50 L972.50,381.59 L972.00,381.85 L971.50,382.26 L971.00,382.78 L970.50,383.35 L970.00,383.92 L969.50,384.44 L969.00,384.85 L968.50,385.11 L968.00,385.20 L967.50,385.11 L967.00,384.85 L966.50,384.44 L966.00,383.92 L965.50,383.35 L965.00,382.78 L964.50,382.26 L964.00,381.85 L963.50,381.59 L963.00,381.50 L962.50,381.59 L962.00,381.85 L961.50,382.26 L961.00,382.78 L960.50,383.35 L960.00,383.92 L959.50,384.44 L959.00,384.85 L958.50,385.11 L958.00,385.20 L957.50,385.11 L957.00,384.85 L956.50,384.44 L956.00,383.92 L955.50,383.35 L955.00,382.78 L954.50,382.26 L954.00,381.85 L953.50,381.59 L953.00,381.50 L952.50,381.59 L952.00,381.85 L951.50,382.26 L951.00,382.78 L950.50,383.35 L950.00,383.92 L949.50,384.44 L949.00,384.85 L948.50,385.11 L948.00,385.20 L947.50,385.11 L947.00,384.85 L946.50,384.44 L946.00,383.92 L945.50,383.35 L945.00,382.78 L944.50,382.26 L944.00,381.85 L943.50,381.59 L943.00,381.50 L942.50,381.59 L942.00,381.85 L941.50,382.26 L941.00,382.78 L940.50,383.35 L940.00,383.92 L939.50,384.44 L939.00,384.85 L938.50,385.11 L938.00,385.20 L937.50,385.11 L937.00,384.85 L936.50,384.44 L936.00,383.92 L935.50,383.35 L935.00,382.78 L934.50,382.26 L934.00,381.85 L933.50,381.59 L933.00,381.50 L932.50,381.59 L932.00,381.85 L931.50,382.26 L931.00,382.78 L930.50,383.35 L930.00,383.92 L929.50,384.44 L929.00,384.85 L928.50,385.11 L928.00,385.20 L927.50,385.11 L927.00,384.85 L926.50,384.44 L926.00,383.92 L925.50,383.35 L925.00,382.78 L924.50,382.26 L924.00,381.85 L923.50,381.59 L923.00,381.50 L922.50,381.59 L922.00,381.85 L921.50,382.26 L921.00,382.78 L920.50,383.35 L920.00,383.92 L919.50,384.44 L919.00,384.85 L918.50,385.11 L918.00,385.20 L917.50,385.11 L917.00,384.85 L916.50,384.44 L916.00,383.92 L915.50,383.35 L915.00,382.78 L914.50,382.26 L914.00,381.85 L913.50,381.59 L913.00,381.50 L912.50,381.59 L912.00,381.85 L911.50,382.26 L911.00,382.78 L910.50,383.35 L910.00,383.92 L909.50,384.44 L909.00,384.85 L908.50,385.11 L908.00,385.20 L907.50,385.11 L907.00,384.85 L906.50,384.44 L906.00,383.92 L905.50,383.35 L905.00,382.78 L904.50,382.26 L904.00,381.85 L903.50,381.59 L903.00,381.50 L902.50,381.59 L902.00,381.85 L901.50,382.26 L901.00,382.78 L900.50,383.35 L900.00,383.92 L899.50,384.44 L899.00,384.85 L898.50,385.11 L898.00,385.20 L897.50,385.11 L897.00,384.85 L896.50,384.44 L896.00,383.92 L895.50,383.35 L895.00,382.78 L894.50,382.26 L894.00,381.85 L893.50,381.59 L893.00,381.50 L892.50,381.59 L892.00,381.85 L891.50,382.26 L891.00,382.78 L890.50,383.35 L890.00,383.92 L889.50,384.44 L889.00,384.85 L888.50,385.11 L888.00,385.20 L887.50,385.11 L887.00,384.85 L886.50,384.44 L886.00,383.92 L885.50,383.35 L885.00,382.78 L884.50,382.26 L884.00,381.85 L883.50,381.59 L883.00,381.50 L882.50,381.59 L882.00,381.85 L881.50,382.26 L881.00,382.78 L880.50,383.35 L880.00,383.92 L879.50,384.44 L879.00,384.85 L878.50,385.11 L878.00,385.20 L877.50,385.11 L877.00,384.85 L876.50,384.44 L876.00,383.92 L875.50,383.35 L875.00,382.78 L874.50,382.26 L874.00,381.85 L873.50,381.59 L873.00,381.50 L872.50,381.59 L872.00,381.85 L871.50,382.26 L871.00,382.78 L870.50,383.35 L870.00,383.92 L869.50,384.44 L869.00,384.85 L868.50,385.11 L868.00,385.20 L867.50,385.11 L867.00,384.85 L866.50,384.44 L866.00,383.92 L865.50,383.35 L865.00,382.78 L864.50,382.26 L864.00,381.85 L863.50,381.59 L863.00,381.50 L862.50,381.59 L862.00,381.85 L861.50,382.26 L861.00,382.78 L860.50,383.35 L860.00,383.92 L859.50,384.44 L859.00,384.85 L858.50,385.11 L858.00,385.20 L857.50,385.11 L857.00,384.85 L856.50,384.44 L856.00,383.92 L855.50,383.35 L855.00,382.78 L854.50,382.26 L854.00,381.85 L853.50,381.59 L853.00,381.50 L852.50,381.59 L852.00,381.85 L851.50,382.26 L851.00,382.78 L850.50,383.35 L850.00,383.92 L849.50,384.44 L849.00,384.85 L848.50,385.11 L848.00,385.20 L847.50,385.11 L847.00,384.85 L846.50,384.44 L846.00,383.92 L845.50,383.35 L845.00,382.78 L844.50,382.26 L844.00,381.85 L843.50,381.59 L843.00,381.50 L842.50,381.59 L842.00,381.85 L841.50,382.26 L841.00,382.78 L840.50,383.35 L840.00,383.92 L839.50,384.44 L839.00,384.85 L838.50,385.11 L838.00,385.20 L837.50,385.11 L837.00,384.85 L836.50,384.44 L836.00,383.92 L835.50,383.35 L835.00,382.78 L834.50,382.26 L834.00,381.85 L833.50,381.59 L833.00,381.50 L832.50,381.59 L832.00,381.85 L831.50,382.26 L831.00,382.78 L830.50,383.35 L830.00,383.92 L829.50,384.44 L829.00,384.85 L828.50,385.11 L828.00,385.20 L827.50,385.11 L827.00,384.85 L826.50,384.44 L826.00,383.92 L825.50,383.35 L825.00,382.78 L824.50,382.26 L824.00,381.85 L823.50,381.59 L823.00,381.50 L822.50,381.59 L822.00,381.85 L821.50,382.26 L821.00,382.78 L820.50,383.35 L820.00,383.92 L819.50,384.44 L819.00,384.85 L818.50,385.11 L818.00,385.20 L817.50,385.11 L817.00,384.85 L816.50,384.44 L816.00,383.92 L815.50,383.35 L815.00,382.78 L814.50,382.26 L814.00,381.85 L813.50,381.59 L813.00,381.50 L812.50,381.59 L812.00,381.85 L811.50,382.26 L811.00,382.78 L810.50,383.35 L810.00,383.92 L809.50,384.44 L809.00,384.85 L808.50,385.11 L808.00,385.20 L807.50,385.11 L807.00,384.85 L806.50,384.44 L806.00,383.92 L805.50,383.35 L805.00,382.78 L804.50,382.26 L804.00,381.85 L803.50,381.59 L803.00,381.50 L802.50,381.59 L802.00,381.85 L801.50,382.26 L801.00,382.78 L800.50,383.35 L800.00,383.92 L799.50,384.44 L799.00,384.85 L798.50,385.11 L798.00,385.20 L797.50,385.11 L797.00,384.85 L796.50,384.44 L796.00,383.92 L795.50,383.35 L795.00,382.78 L794.50,382.26 L794.00,381.85 L793.50,381.59 L793.00,381.50 L792.50,381.59 L792.00,381.85 L791.50,382.26 L791.00,382.78 L790.50,383.35 L790.00,383.92 L789.50,384.44 L789.00,384.85 L788.50,385.11 L788.00,385.20 L787.50,385.11 L787.00,384.85 L786.50,384.44 L786.00,383.92 L785.50,383.35 L785.00,382.78 L784.50,382.26 L784.00,381.85 L783.50,381.59 L783.00,381.50 L782.50,381.59 L782.00,381.85 L781.50,382.26 L781.00,382.78 L780.50,383.35 L780.00,383.92 L779.50,384.44 L779.00,384.85 L778.50,385.11 L778.00,385.20 L777.50,385.11 L777.00,384.85 L776.50,384.44 L776.00,383.92 L775.50,383.35 L775.00,382.78 L774.50,382.26 L774.00,381.85 L773.50,381.59 L773.00,381.50 L772.50,381.59 L772.00,381.85 L771.50,382.26 L771.00,382.78 L770.50,383.35 L770.00,383.92 L769.50,384.44 L769.00,384.85 L768.50,385.11 L768.00,385.20 L767.50,385.11 L767.00,384.85 L766.50,384.44 L766.00,383.92 L765.50,383.35 L765.00,382.78 L764.50,382.26 L764.00,381.85 L763.50,381.59 L763.00,381.50 L762.50,381.59 L762.00,381.85 L761.50,382.26 L761.00,382.78 L760.50,383.35 L760.00,383.92 L759.50,384.44 L759.00,384.85 L758.50,385.11 L758.00,385.20 L757.50,385.11 L757.00,384.85 L756.50,384.44 L756.00,383.92 L755.50,383.35 L755.00,382.78 L754.50,382.26 L754.00,381.85 L753.50,381.59 L753.00,381.50 L752.50,381.59 L752.00,381.85 L751.50,382.26 L751.00,382.78 L750.50,383.35 L750.00,383.92 L749.50,384.44 L749.00,384.85 L748.50,385.11 L748.00,385.20 L747.50,385.11 L747.00,384.85 L746.50,384.44 L746.00,383.92 L745.50,383.35 L745.00,382.78 L744.50,382.26 L744.00,381.85 L743.50,381.59 L743.00,381.50 L742.50,381.59 L742.00,381.85 L741.50,382.26 L741.00,382.78 L740.50,383.35 L740.00,383.92 L739.50,384.44 L739.00,384.85 L738.50,385.11 L738.00,385.20 L737.50,385.11 L737.00,384.85 L736.50,384.44 L736.00,383.92 L735.50,383.35 L735.00,382.78 L734.50,382.26 L734.00,381.85 L733.50,381.59 L733.00,381.50 L732.50,381.59 L732.00,381.85 L731.50,382.26 L731.00,382.78 L730.50,383.35 L730.00,383.92 L729.50,384.44 L729.00,384.85 L728.50,385.11 L728.00,385.20 L727.50,385.11 L727.00,384.85 L726.50,384.44 L726.00,383.92 L725.50,383.35 L725.00,382.78 L724.50,382.26 L724.00,381.85 L723.50,381.59 L723.00,381.50 L722.50,381.59 L722.00,381.85 L721.50,382.26 L721.00,382.78 L720.50,383.35 L720.00,383.92 L719.50,384.44 L719.00,384.85 L718.50,385.11 L718.00,385.20 L717.50,385.11 L717.00,384.85 L716.50,384.44 L716.00,383.92 L715.50,383.35 L715.00,382.78 L714.50,382.26 L714.00,381.85 L713.50,381.59 L713.00,381.50 L712.50,381.59 L712.00,381.85 L711.50,382.26 L711.00,382.78 L710.50,383.35 L710.00,383.92 L709.50,384.44 L709.00,384.85 L708.50,385.11 L708.00,385.20 L707.50,385.11 L707.00,384.85 L706.50,384.44 L706.00,383.92 L705.50,383.35 L705.00,382.78 L704.50,382.26 L704.00,381.85 L703.50,381.59 L703.00,381.50 L702.50,381.59 L702.00,381.85 L701.50,382.26 L701.00,382.78 L700.50,383.35 L700.00,383.92 L699.50,384.44 L699.00,384.85 L698.50,385.11 L698.00,385.20 L697.50,385.11 L697.00,384.85 L696.50,384.44 L696.00,383.92 L695.50,383.35 L695.00,382.78 L694.50,382.26 L694.00,381.85 L693.50,381.59 L693.00,381.50 L692.50,381.59 L692.00,381.85 L691.50,382.26 L691.00,382.78 L690.50,383.35 L690.00,383.92 L689.50,384.44 L689.00,384.85 L688.50,385.11 L688.00,385.20 L687.50,385.11 L687.00,384.85 L686.50,384.44 L686.00,383.92 L685.50,383.35 L685.00,382.78 L684.50,382.26 L684.00,381.85 L683.50,381.59 L683.00,381.50 L682.50,381.59 L682.00,381.85 L681.50,382.26 L681.00,382.78 L680.50,383.35 L680.00,383.92 L679.50,384.44 L679.00,384.85 L678.50,385.11 L678.00,385.20 L677.50,385.11 L677.00,384.85 L676.50,384.44 L676.00,383.92 L675.50,383.35 L675.00,382.78 L674.50,382.26 L674.00,381.85 L673.50,381.59 L673.00,381.50 L672.50,381.59 L672.00,381.85 L671.50,382.26 L671.00,382.78 L670.50,383.35 L670.00,383.92 L669.50,384.44 L669.00,384.85 L668.50,385.11 L668.00,385.20 L667.50,385.11 L667.00,384.85 L666.50,384.44 L666.00,383.92 L665.50,383.35 L665.00,382.78 L664.50,382.26 L664.00,381.85 L663.50,381.59 L663.00,381.50 L662.50,381.59 L662.00,381.85 L661.50,382.26 L661.00,382.78 L660.50,383.35 L660.00,383.92 L659.50,384.44 L659.00,384.85 L658.50,385.11 L658.00,385.20 L657.50,385.11 L657.00,384.85 L656.50,384.44 L656.00,383.92 L655.50,383.35 L655.00,382.78 L654.50,382.26 L654.00,381.85 L653.50,381.59 L653.00,381.50 L652.50,381.59 L652.00,381.85 L651.50,382.26 L651.00,382.78 L650.50,383.35 L650.00,383.92 L649.50,384.44 L649.00,384.85 L648.50,385.11 L648.00,385.20 L647.50,385.11 L647.00,384.85 L646.50,384.44 L646.00,383.92 L645.50,383.35 L645.00,382.78 L644.50,382.26 L644.00,381.85 L643.50,381.59 L643.00,381.50 L642.50,381.59 L642.00,381.85 L641.50,382.26 L641.00,382.78 L640.50,383.35 L640.00,383.92 L639.50,384.44 L639.00,384.85 L638.50,385.11 L638.00,385.20 L637.50,385.11 L637.00,384.85 L636.50,384.44 L636.00,383.92 L635.50,383.35 L635.00,382.78 L634.50,382.26 L634.00,381.85 L633.50,381.59 L633.00,381.50 L632.50,381.59 L632.00,381.85 L631.50,382.26 L631.00,382.78 L630.50,383.35 L630.00,383.92 L629.50,384.44 L629.00,384.85 L628.50,385.11 L628.00,385.20 L627.50,385.11 L627.00,384.85 L626.50,384.44 L626.00,383.92 L625.50,383.35 L625.00,382.78 L624.50,382.26 L624.00,381.85 L623.50,381.59 L623.00,381.50 L622.50,381.59 L622.00,381.85 L621.50,382.26 L621.00,382.78 L620.50,383.35 L620.00,383.92 L619.50,384.44 L619.00,384.85 L618.50,385.11 L618.00,385.20 L617.50,385.11 L617.00,384.85 L616.50,384.44 L616.00,383.92 L615.50,383.35 L615.00,382.78 L614.50,382.26 L614.00,381.85 L613.50,381.59 L613.00,381.50 L612.50,381.59 L612.00,381.85 L611.50,382.26 L611.00,382.78 L610.50,383.35 L610.00,383.92 L609.50,384.44 L609.00,384.85 L608.50,385.11 L608.00,385.20 L607.50,385.11 L607.00,384.85 L606.50,384.44 L606.00,383.92 L605.50,383.35 L605.00,382.78 L604.50,382.26 L604.00,381.85 L603.50,381.59 L603.00,381.50 L602.50,381.59 L602.00,381.85 L601.50,382.26 L601.00,382.78 L600.50,383.35 L600.00,383.92 L599.50,384.44 L599.00,384.85 L598.50,385.11 L598.00,385.20 L597.50,385.11 L597.00,384.85 L596.50,384.44 L596.00,383.92 L595.50,383.35 L595.00,382.78 L594.50,382.26 L594.00,381.85 L593.50,381.59 L593.00,381.50 L592.50,381.59 L592.00,381.85 L591.50,382.26 L591.00,382.78 L590.50,383.35 L590.00,383.92 L589.50,384.44 L589.00,384.85 L588.50,385.11 L588.00,385.20 L587.50,385.11 L587.00,384.85 L586.50,384.44 L586.00,383.92 L585.50,383.35 L585.00,382.78 L584.50,382.26 L584.00,381.85 L583.50,381.59 L583.00,381.50 L582.50,381.59 L582.00,381.85 L581.50,382.26 L581.00,382.78 L580.50,383.35 L580.00,383.92 L579.50,384.44 L579.00,384.85 L578.50,385.11 L578.00,385.20 L577.50,385.11 L577.00,384.85 L576.50,384.44 L576.00,383.92 L575.50,383.35 L575.00,382.78 L574.50,382.26 L574.00,381.85 L573.50,381.59 L573.00,381.50 L572.50,381.59 L572.00,381.85 L571.50,382.26 L571.00,382.78 L570.50,383.35 L570.00,383.92 L569.50,384.44 L569.00,384.85 L568.50,385.11 L568.00,385.20 L567.50,385.11 L567.00,384.85 L566.50,384.44 L566.00,383.92 L565.50,383.35 L565.00,382.78 L564.50,382.26 L564.00,381.85 L563.50,381.59 L563.00,381.50 L562.50,381.59 L562.00,381.85 L561.50,382.26 L561.00,382.78 L560.50,383.35 L560.00,383.92 L559.50,384.44 L559.00,384.85 L558.50,385.11 L558.00,385.20 L557.50,385.11 L557.00,384.85 L556.50,384.44 L556.00,383.92 L555.50,383.35 L555.00,382.78 L554.50,382.26 L554.00,381.85 L553.50,381.59 L553.00,381.50 L552.50,381.59 L552.00,381.85 L551.50,382.26 L551.00,382.78 L550.50,383.35 L550.00,383.92 L549.50,384.44 L549.00,384.85 L548.50,385.11 L548.00,385.20 L547.50,385.11 L547.00,384.85 L546.50,384.44 L546.00,383.92 L545.50,383.35 L545.00,382.78 L544.50,382.26 L544.00,381.85 L543.50,381.59 L543.00,381.50 L542.50,381.59 L542.00,381.85 L541.50,382.26 L541.00,382.78 L540.50,383.35 L540.00,383.92 L539.50,384.44 L539.00,384.85 L538.50,385.11 L538.00,385.20 L537.50,385.11 L537.00,384.85 L536.50,384.44 L536.00,383.92 L535.50,383.35 L535.00,382.78 L534.50,382.26 L534.00,381.85 L533.50,381.59 L533.00,381.50 L532.50,381.59 L532.00,381.85 L531.50,382.26 L531.00,382.78 L530.50,383.35 L530.00,383.92 L529.50,384.44 L529.00,384.85 L528.50,385.11 L528.00,385.20 L527.50,385.11 L527.00,384.85 L526.50,384.44 L526.00,383.92 L525.50,383.35 L525.00,382.78 L524.50,382.26 L524.00,381.85 L523.50,381.59 Z" fill="#fff" stroke="#a7adb4" stroke-width="1"/></svg>
<div class="a" style="left:536px;top:151.6px;color:#8390a2">Cluster</div>
<div class="a" style="left:579px;top:151.6px;color:#3b4554;font-weight:bold">default</div>
<div class="a" style="left:626.3px;top:151.6px;color:#8390a2">has consumed the following since creation:</div>
<div class="a" style="left:536px;top:184.1px;font-size:29px;line-height:29px;font-weight:bold;color:#0b0c18;transform:scaleX(0.955);transform-origin:0 0">2856706.14</div>
<div class="a" style="left:536.5px;top:222.4px;color:#333a46">Total Cost ($)</div>
<div class="a val" style="left:536.5px;top:263.90px;font-size:20.5px;line-height:20.5px;transform:scaleX(0.97);transform-origin:0 0">1451.208</div>
<div class="a lbl" style="left:536.5px;top:288.9px">CPU <b>(Core)</b></div>
<div class="a val" style="left:746px;top:263.90px;font-size:20.5px;line-height:20.5px;transform:scaleX(0.97);transform-origin:0 0">4212.693</div>
<div class="a lbl" style="left:746px;top:288.9px">Memory <b>(Gi)</b></div>
<div class="a val" style="left:956px;top:263.90px;font-size:20.5px;line-height:20.5px;transform:scaleX(0.97);transform-origin:0 0">287570.676</div>
<div class="a lbl" style="left:956px;top:288.9px">Volume <b>(GB)</b></div>
<div class="a val" style="left:536.5px;top:320.80px;font-size:20.5px;line-height:20.5px;transform:scaleX(0.97);transform-origin:0 0">1806433.073</div>
<div class="a lbl" style="left:536.5px;top:345.9px">Inbound Traffic <b>(M)</b></div>
<div class="a val" style="left:746px;top:320.80px;font-size:20.5px;line-height:20.5px;transform:scaleX(0.97);transform-origin:0 0">451891.446</div>
<div class="a lbl" style="left:746px;top:345.9px">Outbound Traffic <b>(M)</b></div>
<div class="a val" style="left:1213.5px;top:263.90px;font-size:20.5px;line-height:20.5px;transform:scaleX(0.97);transform-origin:0 0">2176.81</div>
<div class="a lbl" style="left:1213.5px;top:288.9px">CPU <b>($)</b></div>
<div class="a val" style="left:1411px;top:263.90px;font-size:20.5px;line-height:20.5px;transform:scaleX(0.97);transform-origin:0 0">21063.46</div>
<div class="a lbl" style="left:1411px;top:288.9px">Memory <b>($)</b></div>
<div class="a val" style="left:1610px;top:263.90px;font-size:20.5px;line-height:20.5px;transform:scaleX(0.97);transform-origin:0 0">575141.35</div>
<div class="a lbl" style="left:1610px;top:288.9px">Volume <b>($)</b></div>
<div class="a val" style="left:1213.5px;top:320.80px;font-size:20.5px;line-height:20.5px;transform:scaleX(0.97);transform-origin:0 0">1806433.07</div>
<div class="a lbl" style="left:1213.5px;top:345.9px">Inbound Traffic <b>($)</b></div>
<div class="a val" style="left:1411px;top:320.80px;font-size:20.5px;line-height:20.5px;transform:scaleX(0.97);transform-origin:0 0">451891.45</div>
<div class="a lbl" style="left:1411px;top:345.9px">Outbound Traffic <b>($)</b></div>
<div class="a" style="left:1172px;top:258px;width:1px;height:109px;background:#8d959f"></div>
<div class="a" style="left:523px;top:410.1px;font-size:20px;line-height:20px;font-weight:bold;color:#212b3b">Consumption History</div>
<div class="a" style="left:523px;top:452.6px;color:#3d4757">Billing Cycle</div>
<div class="a" style="left:1210px;top:452.7px;font-weight:bold;color:#394455">Apr. 19, 2022 00:00</div>
<div class="a lbl" style="left:1209.5px;top:473.7px">Start Time</div>
<svg class="a" style="left:1405.5px;top:454px" width="15" height="12" viewBox="0 0 15 12"><rect x="0.6" y="1.4" width="13.6" height="9.6" rx="1.2" fill="#b9c4cf"/><rect x="0.6" y="1.4" width="13.6" height="2.6" fill="#2f3b4c"/><rect x="2.6" y="0.4" width="1.4" height="2" fill="#2f3b4c"/><rect x="10.8" y="0.4" width="1.4" height="2" fill="#2f3b4c"/></svg>
<div class="a" style="left:1473px;top:452.7px;font-weight:bold;color:#394455">Apr. 26, 2022 00:00</div>
<div class="a lbl" style="left:1472.5px;top:473.7px">End Time</div>
<svg class="a" style="left:1668.5px;top:454px" width="15" height="12" viewBox="0 0 15 12"><rect x="0.6" y="1.4" width="13.6" height="9.6" rx="1.2" fill="#b9c4cf"/><rect x="0.6" y="1.4" width="13.6" height="2.6" fill="#2f3b4c"/><rect x="2.6" y="0.4" width="1.4" height="2" fill="#2f3b4c"/><rect x="10.8" y="0.4" width="1.4" height="2" fill="#2f3b4c"/></svg>
<div class="a" style="left:1736.3px;top:452.8px;font-weight:bold;color:#394455">1 hour</div>
<svg class="a" style="left:1800px;top:454px" width="12" height="10"><path d="M1.8 2.8 L6.1 7.2 L10.4 2.8" fill="none" stroke="#394455" stroke-width="1.4"/></svg>
<div class="a lbl" style="left:1736.5px;top:473px">Sampling</div>
<div class="a lbl" style="left:1736.5px;top:494px">Interval</div>
<div class="a" style="left:523px;top:501px;width:1303px;height:247px;background:#f9fafc;border:1px solid #dde1e6;border-radius:0"></div>
<div class="a" style="left:537px;top:513.7px;font-weight:bold;color:#2c3646">Cost Trends ($)</div>
<div class="a" style="left:1417px;top:519px;width:6px;height:6px;border-radius:3px;background:#67c293"></div>
<div class="a" style="left:1431px;top:515.6px;color:#555d69">CPU</div>
<div class="a" style="left:1464px;top:519px;width:6px;height:6px;border-radius:3px;background:#4aa6d6"></div>
<div class="a" style="left:1478.3px;top:515.6px;color:#555d69">Memory</div>
<div class="a" style="left:1529px;top:519px;width:6px;height:6px;border-radius:3px;background:#f0ac4c"></div>
<div class="a" style="left:1544px;top:515.6px;color:#555d69">Volumes</div>
<div class="a" style="left:1597px;top:519px;width:6px;height:6px;border-radius:3px;background:#d44343"></div>
<div class="a" style="left:1611.6px;top:515.6px;color:#555d69">Inbound Traffic</div>
<div class="a" style="left:1699px;top:519px;width:6px;height:6px;border-radius:3px;background:#4b8686"></div>
<div class="a" style="left:1713px;top:515.6px;color:#555d69">Outbound Traffic</div>
<svg class="a" style="left:0;top:0" width="1885" height="961"><line x1="582" y1="544" x2="1812" y2="544" stroke="#dcdcdc" stroke-width="1" stroke-dasharray="2 2"/><line x1="582" y1="582.2" x2="1812" y2="582.2" stroke="#dcdcdc" stroke-width="1" stroke-dasharray="2 2"/><line x1="582" y1="620.3" x2="1812" y2="620.3" stroke="#dcdcdc" stroke-width="1" stroke-dasharray="2 2"/><line x1="582" y1="658.3" x2="1812" y2="658.3" stroke="#dcdcdc" stroke-width="1" stroke-dasharray="2 2"/><path d="M582.5,696.8 L582.5,696.8 589.9,696.8 597.2,696.8 604.6,650.3 611.9,650.3 619.3,650.3 626.7,650.3 634.0,650.3 641.4,650.3 648.8,650.3 656.1,669.4 663.5,664.8 670.8,660.2 678.2,662.1 685.6,672.1 692.9,672.5 700.3,672.9 707.7,645.2 715.0,600.3 722.4,601.0 729.7,601.0 737.1,601.0 744.5,601.0 751.8,601.0 759.2,601.0 766.5,601.5 773.9,601.0 781.3,601.0 788.6,600.8 796.0,601.0 803.4,601.0 810.7,601.0 818.1,601.0 825.4,579.0 832.8,577.1 840.2,593.9 847.5,593.9 854.9,592.3 862.3,593.9 869.6,588.7 877.0,593.9 884.3,592.4 891.7,594.8 899.1,595.0 906.4,595.0 913.8,595.0 921.2,595.0 928.5,595.0 935.9,595.0 943.2,595.0 950.6,595.0 958.0,595.0 965.3,595.0 972.7,595.0 980.0,595.0 987.4,595.0 994.8,595.0 1002.1,594.0 1009.5,594.0 1016.9,594.0 1024.2,594.0 1031.6,594.0 1038.9,595.2 1046.3,595.2 1053.7,595.2 1061.0,595.2 1068.4,595.2 1075.8,595.2 1083.1,595.2 1090.5,595.2 1097.8,595.2 1105.2,595.2 1112.6,595.2 1119.9,595.2 1127.3,595.2 1134.7,595.2 1142.0,595.2 1149.4,595.2 1156.7,595.2 1164.1,595.2 1171.5,595.5 1178.8,562.1 1186.2,588.2 1193.5,590.3 1200.9,590.6 1208.3,590.0 1215.6,587.9 1223.0,589.8 1230.4,590.0 1237.7,590.0 1245.1,590.0 1252.4,590.0 1259.8,590.0 1267.2,590.0 1274.5,590.0 1281.9,590.0 1289.3,590.0 1296.6,590.0 1304.0,590.0 1311.3,590.0 1318.7,590.0 1326.1,590.0 1333.4,590.0 1340.8,590.0 1348.1,590.0 1355.5,590.0 1362.9,590.0 1370.2,590.0 1377.6,590.0 1385.0,590.0 1392.3,590.0 1399.7,590.0 1407.0,590.0 1414.4,590.0 1421.8,590.0 1429.1,590.0 1436.5,590.0 1443.9,590.0 1451.2,590.0 1458.6,590.0 1465.9,590.0 1473.3,590.0 1480.7,590.0 1488.0,590.0 1495.4,590.0 1502.8,590.0 1510.1,590.0 1517.5,590.0 1524.8,590.0 1532.2,590.0 1539.6,590.0 1546.9,590.0 1554.3,590.0 1561.6,590.0 1569.0,590.0 1576.4,590.0 1583.7,590.0 1591.1,590.0 1598.5,590.0 1605.8,590.0 1613.2,590.0 1620.5,590.0 1627.9,590.0 1635.3,590.0 1642.6,590.0 1650.0,590.0 1657.4,590.0 1664.7,590.0 1672.1,590.0 1679.4,590.0 1686.8,590.0 1694.2,590.0 1701.5,590.0 1708.9,584.7 1716.2,590.0 1723.6,590.3 1731.0,587.4 1738.3,587.1 1745.7,579.0 1753.1,584.7 1760.4,590.6 1767.8,590.6 1775.1,590.6 1782.5,590.6 1789.9,590.6 1797.2,590.6 1804.6,590.6 1812.0,590.6 L1812.0,696.8 Z" fill="#d54d2b" fill-opacity="0.11" stroke="none"/><path d="M582.5,696.8 L582.5,696.8 589.9,696.8 597.2,696.8 604.6,663.2 611.9,663.2 619.3,663.2 626.7,663.2 634.0,663.2 641.4,663.2 648.8,663.2 656.1,664.6 663.5,664.6 670.8,664.6 678.2,664.6 685.6,664.6 692.9,664.6 700.3,664.6 707.7,664.6 715.0,664.6 722.4,664.6 729.7,664.6 737.1,664.6 744.5,664.6 751.8,664.6 759.2,664.6 766.5,664.6 773.9,664.6 781.3,664.6 788.6,664.6 796.0,664.6 803.4,664.6 810.7,664.6 818.1,664.6 825.4,664.6 832.8,664.6 840.2,664.6 847.5,664.6 854.9,664.6 862.3,664.6 869.6,664.6 877.0,664.6 884.3,664.6 891.7,664.6 899.1,664.6 906.4,664.6 913.8,664.6 921.2,664.6 928.5,664.6 935.9,664.6 943.2,664.6 950.6,664.6 958.0,664.6 965.3,664.6 972.7,664.6 980.0,664.6 987.4,664.6 994.8,664.6 1002.1,664.6 1009.5,664.6 1016.9,664.6 1024.2,664.6 1031.6,664.6 1038.9,664.6 1046.3,664.6 1053.7,664.6 1061.0,664.6 1068.4,664.6 1075.8,664.6 1083.1,664.6 1090.5,664.6 1097.8,664.6 1105.2,664.6 1112.6,664.6 1119.9,664.6 1127.3,664.6 1134.7,664.6 1142.0,664.6 1149.4,664.6 1156.7,664.6 1164.1,664.6 1171.5,664.6 1178.8,664.6 1186.2,664.6 1193.5,664.6 1200.9,664.6 1208.3,664.6 1215.6,662.9 1223.0,662.9 1230.4,662.9 1237.7,662.9 1245.1,662.9 1252.4,662.9 1259.8,662.9 1267.2,662.9 1274.5,662.9 1281.9,662.9 1289.3,662.9 1296.6,662.9 1304.0,662.9 1311.3,662.9 1318.7,662.9 1326.1,662.9 1333.4,662.9 1340.8,662.9 1348.1,662.9 1355.5,662.9 1362.9,662.9 1370.2,662.9 1377.6,662.9 1385.0,662.9 1392.3,662.9 1399.7,662.9 1407.0,662.9 1414.4,662.9 1421.8,662.9 1429.1,662.9 1436.5,662.9 1443.9,662.9 1451.2,662.9 1458.6,662.9 1465.9,662.9 1473.3,662.9 1480.7,662.9 1488.0,662.9 1495.4,662.9 1502.8,662.9 1510.1,662.9 1517.5,662.9 1524.8,662.9 1532.2,662.9 1539.6,662.9 1546.9,662.9 1554.3,662.9 1561.6,662.9 1569.0,662.9 1576.4,662.9 1583.7,662.9 1591.1,662.9 1598.5,662.9 1605.8,662.9 1613.2,662.9 1620.5,662.9 1627.9,662.9 1635.3,662.9 1642.6,662.9 1650.0,662.9 1657.4,662.9 1664.7,662.9 1672.1,662.9 1679.4,662.9 1686.8,662.9 1694.2,662.9 1701.5,662.9 1708.9,661.3 1716.2,661.3 1723.6,661.3 1731.0,661.3 1738.3,656.5 1745.7,652.0 1753.1,659.7 1760.4,663.0 1767.8,663.0 1775.1,663.0 1782.5,663.0 1789.9,663.0 1797.2,663.0 1804.6,663.0 1812.0,663.0 L1812.0,696.8 Z" fill="#f0ac4c" fill-opacity="0.12" stroke="none"/><path d="M582.5,696.8 L582.5,696.8 589.9,696.8 597.2,696.8 604.6,652.4 611.9,652.4 619.3,652.4 626.7,652.4 634.0,652.4 641.4,652.4 648.8,652.4 656.1,670.2 663.5,675.5 670.8,672.9 678.2,674.5 685.6,675.0 692.9,675.0 700.3,675.0 707.7,675.0 715.0,675.0 722.4,675.0 729.7,675.0 737.1,675.0 744.5,675.0 751.8,675.0 759.2,675.0 766.5,675.0 773.9,675.0 781.3,675.0 788.6,675.0 796.0,675.0 803.4,675.0 810.7,675.0 818.1,675.0 825.4,672.3 832.8,673.0 840.2,674.5 847.5,674.5 854.9,674.5 862.3,674.5 869.6,674.5 877.0,676.0 884.3,676.0 891.7,676.0 899.1,676.0 906.4,676.0 913.8,676.0 921.2,676.0 928.5,676.0 935.9,676.0 943.2,676.0 950.6,676.0 958.0,676.0 965.3,676.0 972.7,676.0 980.0,676.0 987.4,676.0 994.8,676.0 1002.1,676.0 1009.5,676.0 1016.9,676.0 1024.2,676.0 1031.6,676.0 1038.9,676.0 1046.3,676.0 1053.7,676.0 1061.0,676.0 1068.4,676.0 1075.8,676.0 1083.1,676.0 1090.5,676.0 1097.8,676.0 1105.2,676.0 1112.6,676.0 1119.9,676.0 1127.3,676.0 1134.7,676.0 1142.0,676.0 1149.4,676.0 1156.7,676.0 1164.1,676.0 1171.5,676.0 1178.8,655.6 1186.2,671.3 1193.5,672.1 1200.9,672.1 1208.3,671.5 1215.6,670.2 1223.0,671.0 1230.4,671.0 1237.7,671.0 1245.1,671.0 1252.4,671.0 1259.8,671.0 1267.2,671.0 1274.5,671.0 1281.9,671.0 1289.3,671.0 1296.6,671.0 1304.0,671.0 1311.3,671.0 1318.7,671.0 1326.1,671.0 1333.4,671.0 1340.8,671.0 1348.1,671.0 1355.5,671.0 1362.9,671.0 1370.2,671.0 1377.6,671.0 1385.0,671.0 1392.3,671.0 1399.7,671.0 1407.0,671.0 1414.4,671.0 1421.8,671.0 1429.1,671.0 1436.5,671.0 1443.9,671.0 1451.2,671.0 1458.6,671.0 1465.9,671.0 1473.3,671.0 1480.7,671.0 1488.0,671.0 1495.4,671.0 1502.8,671.0 1510.1,671.0 1517.5,671.0 1524.8,671.0 1532.2,671.0 1539.6,671.0 1546.9,671.0 1554.3,671.0 1561.6,671.0 1569.0,671.0 1576.4,671.0 1583.7,671.0 1591.1,671.0 1598.5,671.0 1605.8,671.0 1613.2,671.0 1620.5,671.0 1627.9,671.0 1635.3,671.0 1642.6,671.0 1650.0,671.0 1657.4,671.0 1664.7,671.0 1672.1,671.0 1679.4,671.0 1686.8,671.0 1694.2,671.0 1701.5,671.0 1708.9,670.2 1716.2,671.3 1723.6,671.3 1731.0,670.6 1738.3,669.4 1745.7,665.3 1753.1,668.5 1760.4,671.6 1767.8,671.6 1775.1,671.6 1782.5,671.6 1789.9,671.6 1797.2,671.6 1804.6,671.6 1812.0,671.6 L1812.0,696.8 Z" fill="#4b8686" fill-opacity="0.095" stroke="none"/><path d="M582.5,696.8 L582.5,696.8 589.9,696.8 597.2,696.8 604.6,695.6 611.9,695.6 619.3,695.6 626.7,695.6 634.0,695.6 641.4,695.6 648.8,695.6 656.1,695.6 663.5,695.6 670.8,695.6 678.2,695.6 685.6,695.6 692.9,695.6 700.3,695.6 707.7,695.6 715.0,695.6 722.4,695.6 729.7,695.6 737.1,695.6 744.5,695.6 751.8,695.6 759.2,695.6 766.5,695.6 773.9,695.6 781.3,695.6 788.6,695.6 796.0,695.6 803.4,695.6 810.7,695.6 818.1,695.6 825.4,695.6 832.8,695.6 840.2,695.6 847.5,695.6 854.9,695.6 862.3,695.6 869.6,695.6 877.0,695.6 884.3,695.6 891.7,695.6 899.1,695.6 906.4,695.6 913.8,695.6 921.2,695.6 928.5,695.6 935.9,695.6 943.2,695.6 950.6,695.6 958.0,695.6 965.3,695.6 972.7,695.6 980.0,695.6 987.4,695.6 994.8,695.6 1002.1,695.6 1009.5,695.6 1016.9,695.6 1024.2,695.6 1031.6,695.6 1038.9,695.6 1046.3,695.6 1053.7,695.6 1061.0,695.6 1068.4,695.6 1075.8,695.6 1083.1,695.6 1090.5,695.6 1097.8,695.6 1105.2,695.6 1112.6,695.6 1119.9,695.6 1127.3,695.6 1134.7,695.6 1142.0,695.6 1149.4,695.6 1156.7,695.6 1164.1,695.6 1171.5,695.6 1178.8,695.6 1186.2,695.6 1193.5,695.6 1200.9,695.6 1208.3,695.6 1215.6,695.6 1223.0,695.6 1230.4,695.6 1237.7,695.6 1245.1,695.6 1252.4,695.6 1259.8,695.6 1267.2,695.6 1274.5,695.6 1281.9,695.6 1289.3,695.6 1296.6,695.6 1304.0,695.6 1311.3,695.6 1318.7,695.6 1326.1,695.6 1333.4,695.6 1340.8,695.6 1348.1,695.6 1355.5,695.6 1362.9,695.6 1370.2,695.6 1377.6,695.6 1385.0,695.6 1392.3,695.6 1399.7,695.6 1407.0,695.6 1414.4,695.6 1421.8,695.6 1429.1,695.6 1436.5,695.6 1443.9,695.6 1451.2,695.6 1458.6,695.6 1465.9,695.6 1473.3,695.6 1480.7,695.6 1488.0,695.6 1495.4,695.6 1502.8,695.6 1510.1,695.6 1517.5,695.6 1524.8,695.6 1532.2,695.6 1539.6,695.6 1546.9,695.6 1554.3,695.6 1561.6,695.6 1569.0,695.6 1576.4,695.6 1583.7,695.6 1591.1,695.6 1598.5,695.6 1605.8,695.6 1613.2,695.6 1620.5,695.6 1627.9,695.6 1635.3,695.6 1642.6,695.6 1650.0,695.6 1657.4,695.6 1664.7,695.6 1672.1,695.6 1679.4,695.6 1686.8,695.6 1694.2,695.6 1701.5,695.6 1708.9,695.6 1716.2,695.6 1723.6,695.6 1731.0,695.6 1738.3,695.6 1745.7,695.6 1753.1,695.6 1760.4,695.6 1767.8,695.6 1775.1,695.6 1782.5,695.6 1789.9,695.6 1797.2,695.6 1804.6,695.6 1812.0,695.6 L1812.0,696.8 Z" fill="#4aa6d6" fill-opacity="0.1" stroke="none"/><path d="M582.5,696.8 L582.5,696.8 589.9,696.8 597.2,696.8 604.6,696.5 611.9,696.5 619.3,696.5 626.7,696.5 634.0,696.5 641.4,696.5 648.8,696.5 656.1,696.5 663.5,696.5 670.8,696.5 678.2,696.5 685.6,696.5 692.9,696.5 700.3,696.5 707.7,696.5 715.0,696.5 722.4,696.5 729.7,696.5 737.1,696.5 744.5,696.5 751.8,696.5 759.2,696.5 766.5,696.5 773.9,696.5 781.3,696.5 788.6,696.5 796.0,696.5 803.4,696.5 810.7,696.5 818.1,696.5 825.4,696.5 832.8,696.5 840.2,696.5 847.5,696.5 854.9,696.5 862.3,696.5 869.6,696.5 877.0,696.5 884.3,696.5 891.7,696.5 899.1,696.5 906.4,696.5 913.8,696.5 921.2,696.5 928.5,696.5 935.9,696.5 943.2,696.5 950.6,696.5 958.0,696.5 965.3,696.5 972.7,696.5 980.0,696.5 987.4,696.5 994.8,696.5 1002.1,696.5 1009.5,696.5 1016.9,696.5 1024.2,696.5 1031.6,696.5 1038.9,696.5 1046.3,696.5 1053.7,696.5 1061.0,696.5 1068.4,696.5 1075.8,696.5 1083.1,696.5 1090.5,696.5 1097.8,696.5 1105.2,696.5 1112.6,696.5 1119.9,696.5 1127.3,696.5 1134.7,696.5 1142.0,696.5 1149.4,696.5 1156.7,696.5 1164.1,696.5 1171.5,696.5 1178.8,696.5 1186.2,696.5 1193.5,696.5 1200.9,696.5 1208.3,696.5 1215.6,696.5 1223.0,696.5 1230.4,696.5 1237.7,696.5 1245.1,696.5 1252.4,696.5 1259.8,696.5 1267.2,696.5 1274.5,696.5 1281.9,696.5 1289.3,696.5 1296.6,696.5 1304.0,696.5 1311.3,696.5 1318.7,696.5 1326.1,696.5 1333.4,696.5 1340.8,696.5 1348.1,696.5 1355.5,696.5 1362.9,696.5 1370.2,696.5 1377.6,696.5 1385.0,696.5 1392.3,696.5 1399.7,696.5 1407.0,696.5 1414.4,696.5 1421.8,696.5 1429.1,696.5 1436.5,696.5 1443.9,696.5 1451.2,696.5 1458.6,696.5 1465.9,696.5 1473.3,696.5 1480.7,696.5 1488.0,696.5 1495.4,696.5 1502.8,696.5 1510.1,696.5 1517.5,696.5 1524.8,696.5 1532.2,696.5 1539.6,696.5 1546.9,696.5 1554.3,696.5 1561.6,696.5 1569.0,696.5 1576.4,696.5 1583.7,696.5 1591.1,696.5 1598.5,696.5 1605.8,696.5 1613.2,696.5 1620.5,696.5 1627.9,696.5 1635.3,696.5 1642.6,696.5 1650.0,696.5 1657.4,696.5 1664.7,696.5 1672.1,696.5 1679.4,696.5 1686.8,696.5 1694.2,696.5 1701.5,696.5 1708.9,696.5 1716.2,696.5 1723.6,696.5 1731.0,696.5 1738.3,696.5 1745.7,696.5 1753.1,696.5 1760.4,696.5 1767.8,696.5 1775.1,696.5 1782.5,696.5 1789.9,696.5 1797.2,696.5 1804.6,696.5 1812.0,696.5 L1812.0,696.8 Z" fill="#67c293" fill-opacity="0.1" stroke="none"/><polyline points="582.5,696.8 589.9,696.8 597.2,696.8 604.6,650.3 611.9,650.3 619.3,650.3 626.7,650.3 634.0,650.3 641.4,650.3 648.8,650.3 656.1,669.4 663.5,664.8 670.8,660.2 678.2,662.1 685.6,672.1 692.9,672.5 700.3,672.9 707.7,645.2 715.0,600.3 722.4,601.0 729.7,601.0 737.1,601.0 744.5,601.0 751.8,601.0 759.2,601.0 766.5,601.5 773.9,601.0 781.3,601.0 788.6,600.8 796.0,601.0 803.4,601.0 810.7,601.0 818.1,601.0 825.4,579.0 832.8,577.1 840.2,593.9 847.5,593.9 854.9,592.3 862.3,593.9 869.6,588.7 877.0,593.9 884.3,592.4 891.7,594.8 899.1,595.0 906.4,595.0 913.8,595.0 921.2,595.0 928.5,595.0 935.9,595.0 943.2,595.0 950.6,595.0 958.0,595.0 965.3,595.0 972.7,595.0 980.0,595.0 987.4,595.0 994.8,595.0 1002.1,594.0 1009.5,594.0 1016.9,594.0 1024.2,594.0 1031.6,594.0 1038.9,595.2 1046.3,595.2 1053.7,595.2 1061.0,595.2 1068.4,595.2 1075.8,595.2 1083.1,595.2 1090.5,595.2 1097.8,595.2 1105.2,595.2 1112.6,595.2 1119.9,595.2 1127.3,595.2 1134.7,595.2 1142.0,595.2 1149.4,595.2 1156.7,595.2 1164.1,595.2 1171.5,595.5 1178.8,562.1 1186.2,588.2 1193.5,590.3 1200.9,590.6 1208.3,590.0 1215.6,587.9 1223.0,589.8 1230.4,590.0 1237.7,590.0 1245.1,590.0 1252.4,590.0 1259.8,590.0 1267.2,590.0 1274.5,590.0 1281.9,590.0 1289.3,590.0 1296.6,590.0 1304.0,590.0 1311.3,590.0 1318.7,590.0 1326.1,590.0 1333.4,590.0 1340.8,590.0 1348.1,590.0 1355.5,590.0 1362.9,590.0 1370.2,590.0 1377.6,590.0 1385.0,590.0 1392.3,590.0 1399.7,590.0 1407.0,590.0 1414.4,590.0 1421.8,590.0 1429.1,590.0 1436.5,590.0 1443.9,590.0 1451.2,590.0 1458.6,590.0 1465.9,590.0 1473.3,590.0 1480.7,590.0 1488.0,590.0 1495.4,590.0 1502.8,590.0 1510.1,590.0 1517.5,590.0 1524.8,590.0 1532.2,590.0 1539.6,590.0 1546.9,590.0 1554.3,590.0 1561.6,590.0 1569.0,590.0 1576.4,590.0 1583.7,590.0 1591.1,590.0 1598.5,590.0 1605.8,590.0 1613.2,590.0 1620.5,590.0 1627.9,590.0 1635.3,590.0 1642.6,590.0 1650.0,590.0 1657.4,590.0 1664.7,590.0 1672.1,590.0 1679.4,590.0 1686.8,590.0 1694.2,590.0 1701.5,590.0 1708.9,584.7 1716.2,590.0 1723.6,590.3 1731.0,587.4 1738.3,587.1 1745.7,579.0 1753.1,584.7 1760.4,590.6 1767.8,590.6 1775.1,590.6 1782.5,590.6 1789.9,590.6 1797.2,590.6 1804.6,590.6 1812.0,590.6" fill="none" stroke="#a93d3d" stroke-width="1" stroke-linejoin="round"/><polyline points="582.5,696.8 589.9,696.8 597.2,696.8 604.6,663.2 611.9,663.2 619.3,663.2 626.7,663.2 634.0,663.2 641.4,663.2 648.8,663.2 656.1,664.6 663.5,664.6 670.8,664.6 678.2,664.6 685.6,664.6 692.9,664.6 700.3,664.6 707.7,664.6 715.0,664.6 722.4,664.6 729.7,664.6 737.1,664.6 744.5,664.6 751.8,664.6 759.2,664.6 766.5,664.6 773.9,664.6 781.3,664.6 788.6,664.6 796.0,664.6 803.4,664.6 810.7,664.6 818.1,664.6 825.4,664.6 832.8,664.6 840.2,664.6 847.5,664.6 854.9,664.6 862.3,664.6 869.6,664.6 877.0,664.6 884.3,664.6 891.7,664.6 899.1,664.6 906.4,664.6 913.8,664.6 921.2,664.6 928.5,664.6 935.9,664.6 943.2,664.6 950.6,664.6 958.0,664.6 965.3,664.6 972.7,664.6 980.0,664.6 987.4,664.6 994.8,664.6 1002.1,664.6 1009.5,664.6 1016.9,664.6 1024.2,664.6 1031.6,664.6 1038.9,664.6 1046.3,664.6 1053.7,664.6 1061.0,664.6 1068.4,664.6 1075.8,664.6 1083.1,664.6 1090.5,664.6 1097.8,664.6 1105.2,664.6 1112.6,664.6 1119.9,664.6 1127.3,664.6 1134.7,664.6 1142.0,664.6 1149.4,664.6 1156.7,664.6 1164.1,664.6 1171.5,664.6 1178.8,664.6 1186.2,664.6 1193.5,664.6 1200.9,664.6 1208.3,664.6 1215.6,662.9 1223.0,662.9 1230.4,662.9 1237.7,662.9 1245.1,662.9 1252.4,662.9 1259.8,662.9 1267.2,662.9 1274.5,662.9 1281.9,662.9 1289.3,662.9 1296.6,662.9 1304.0,662.9 1311.3,662.9 1318.7,662.9 1326.1,662.9 1333.4,662.9 1340.8,662.9 1348.1,662.9 1355.5,662.9 1362.9,662.9 1370.2,662.9 1377.6,662.9 1385.0,662.9 1392.3,662.9 1399.7,662.9 1407.0,662.9 1414.4,662.9 1421.8,662.9 1429.1,662.9 1436.5,662.9 1443.9,662.9 1451.2,662.9 1458.6,662.9 1465.9,662.9 1473.3,662.9 1480.7,662.9 1488.0,662.9 1495.4,662.9 1502.8,662.9 1510.1,662.9 1517.5,662.9 1524.8,662.9 1532.2,662.9 1539.6,662.9 1546.9,662.9 1554.3,662.9 1561.6,662.9 1569.0,662.9 1576.4,662.9 1583.7,662.9 1591.1,662.9 1598.5,662.9 1605.8,662.9 1613.2,662.9 1620.5,662.9 1627.9,662.9 1635.3,662.9 1642.6,662.9 1650.0,662.9 1657.4,662.9 1664.7,662.9 1672.1,662.9 1679.4,662.9 1686.8,662.9 1694.2,662.9 1701.5,662.9 1708.9,661.3 1716.2,661.3 1723.6,661.3 1731.0,661.3 1738.3,656.5 1745.7,652.0 1753.1,659.7 1760.4,663.0 1767.8,663.0 1775.1,663.0 1782.5,663.0 1789.9,663.0 1797.2,663.0 1804.6,663.0 1812.0,663.0" fill="none" stroke="#e19d4e" stroke-width="1" stroke-linejoin="round"/><polyline points="582.5,696.8 589.9,696.8 597.2,696.8 604.6,652.4 611.9,652.4 619.3,652.4 626.7,652.4 634.0,652.4 641.4,652.4 648.8,652.4 656.1,670.2 663.5,675.5 670.8,672.9 678.2,674.5 685.6,675.0 692.9,675.0 700.3,675.0 707.7,675.0 715.0,675.0 722.4,675.0 729.7,675.0 737.1,675.0 744.5,675.0 751.8,675.0 759.2,675.0 766.5,675.0 773.9,675.0 781.3,675.0 788.6,675.0 796.0,675.0 803.4,675.0 810.7,675.0 818.1,675.0 825.4,672.3 832.8,673.0 840.2,674.5 847.5,674.5 854.9,674.5 862.3,674.5 869.6,674.5 877.0,676.0 884.3,676.0 891.7,676.0 899.1,676.0 906.4,676.0 913.8,676.0 921.2,676.0 928.5,676.0 935.9,676.0 943.2,676.0 950.6,676.0 958.0,676.0 965.3,676.0 972.7,676.0 980.0,676.0 987.4,676.0 994.8,676.0 1002.1,676.0 1009.5,676.0 1016.9,676.0 1024.2,676.0 1031.6,676.0 1038.9,676.0 1046.3,676.0 1053.7,676.0 1061.0,676.0 1068.4,676.0 1075.8,676.0 1083.1,676.0 1090.5,676.0 1097.8,676.0 1105.2,676.0 1112.6,676.0 1119.9,676.0 1127.3,676.0 1134.7,676.0 1142.0,676.0 1149.4,676.0 1156.7,676.0 1164.1,676.0 1171.5,676.0 1178.8,655.6 1186.2,671.3 1193.5,672.1 1200.9,672.1 1208.3,671.5 1215.6,670.2 1223.0,671.0 1230.4,671.0 1237.7,671.0 1245.1,671.0 1252.4,671.0 1259.8,671.0 1267.2,671.0 1274.5,671.0 1281.9,671.0 1289.3,671.0 1296.6,671.0 1304.0,671.0 1311.3,671.0 1318.7,671.0 1326.1,671.0 1333.4,671.0 1340.8,671.0 1348.1,671.0 1355.5,671.0 1362.9,671.0 1370.2,671.0 1377.6,671.0 1385.0,671.0 1392.3,671.0 1399.7,671.0 1407.0,671.0 1414.4,671.0 1421.8,671.0 1429.1,671.0 1436.5,671.0 1443.9,671.0 1451.2,671.0 1458.6,671.0 1465.9,671.0 1473.3,671.0 1480.7,671.0 1488.0,671.0 1495.4,671.0 1502.8,671.0 1510.1,671.0 1517.5,671.0 1524.8,671.0 1532.2,671.0 1539.6,671.0 1546.9,671.0 1554.3,671.0 1561.6,671.0 1569.0,671.0 1576.4,671.0 1583.7,671.0 1591.1,671.0 1598.5,671.0 1605.8,671.0 1613.2,671.0 1620.5,671.0 1627.9,671.0 1635.3,671.0 1642.6,671.0 1650.0,671.0 1657.4,671.0 1664.7,671.0 1672.1,671.0 1679.4,671.0 1686.8,671.0 1694.2,671.0 1701.5,671.0 1708.9,670.2 1716.2,671.3 1723.6,671.3 1731.0,670.6 1738.3,669.4 1745.7,665.3 1753.1,668.5 1760.4,671.6 1767.8,671.6 1775.1,671.6 1782.5,671.6 1789.9,671.6 1797.2,671.6 1804.6,671.6 1812.0,671.6" fill="none" stroke="#4a6767" stroke-width="1" stroke-linejoin="round"/><polyline points="582.5,696.8 589.9,696.8 597.2,696.8 604.6,696.5 611.9,696.5 619.3,696.5 626.7,696.5 634.0,696.5 641.4,696.5 648.8,696.5 656.1,696.5 663.5,696.5 670.8,696.5 678.2,696.5 685.6,696.5 692.9,696.5 700.3,696.5 707.7,696.5 715.0,696.5 722.4,696.5 729.7,696.5 737.1,696.5 744.5,696.5 751.8,696.5 759.2,696.5 766.5,696.5 773.9,696.5 781.3,696.5 788.6,696.5 796.0,696.5 803.4,696.5 810.7,696.5 818.1,696.5 825.4,696.5 832.8,696.5 840.2,696.5 847.5,696.5 854.9,696.5 862.3,696.5 869.6,696.5 877.0,696.5 884.3,696.5 891.7,696.5 899.1,696.5 906.4,696.5 913.8,696.5 921.2,696.5 928.5,696.5 935.9,696.5 943.2,696.5 950.6,696.5 958.0,696.5 965.3,696.5 972.7,696.5 980.0,696.5 987.4,696.5 994.8,696.5 1002.1,696.5 1009.5,696.5 1016.9,696.5 1024.2,696.5 1031.6,696.5 1038.9,696.5 1046.3,696.5 1053.7,696.5 1061.0,696.5 1068.4,696.5 1075.8,696.5 1083.1,696.5 1090.5,696.5 1097.8,696.5 1105.2,696.5 1112.6,696.5 1119.9,696.5 1127.3,696.5 1134.7,696.5 1142.0,696.5 1149.4,696.5 1156.7,696.5 1164.1,696.5 1171.5,696.5 1178.8,696.5 1186.2,696.5 1193.5,696.5 1200.9,696.5 1208.3,696.5 1215.6,696.5 1223.0,696.5 1230.4,696.5 1237.7,696.5 1245.1,696.5 1252.4,696.5 1259.8,696.5 1267.2,696.5 1274.5,696.5 1281.9,696.5 1289.3,696.5 1296.6,696.5 1304.0,696.5 1311.3,696.5 1318.7,696.5 1326.1,696.5 1333.4,696.5 1340.8,696.5 1348.1,696.5 1355.5,696.5 1362.9,696.5 1370.2,696.5 1377.6,696.5 1385.0,696.5 1392.3,696.5 1399.7,696.5 1407.0,696.5 1414.4,696.5 1421.8,696.5 1429.1,696.5 1436.5,696.5 1443.9,696.5 1451.2,696.5 1458.6,696.5 1465.9,696.5 1473.3,696.5 1480.7,696.5 1488.0,696.5 1495.4,696.5 1502.8,696.5 1510.1,696.5 1517.5,696.5 1524.8,696.5 1532.2,696.5 1539.6,696.5 1546.9,696.5 1554.3,696.5 1561.6,696.5 1569.0,696.5 1576.4,696.5 1583.7,696.5 1591.1,696.5 1598.5,696.5 1605.8,696.5 1613.2,696.5 1620.5,696.5 1627.9,696.5 1635.3,696.5 1642.6,696.5 1650.0,696.5 1657.4,696.5 1664.7,696.5 1672.1,696.5 1679.4,696.5 1686.8,696.5 1694.2,696.5 1701.5,696.5 1708.9,696.5 1716.2,696.5 1723.6,696.5 1731.0,696.5 1738.3,696.5 1745.7,696.5 1753.1,696.5 1760.4,696.5 1767.8,696.5 1775.1,696.5 1782.5,696.5 1789.9,696.5 1797.2,696.5 1804.6,696.5 1812.0,696.5" fill="none" stroke="#9adbd0" stroke-width="1" stroke-linejoin="round"/><polyline points="582.5,696.8 589.9,696.8 597.2,696.8 604.6,695.6 611.9,695.6 619.3,695.6 626.7,695.6 634.0,695.6 641.4,695.6 648.8,695.6 656.1,695.6 663.5,695.6 670.8,695.6 678.2,695.6 685.6,695.6 692.9,695.6 700.3,695.6 707.7,695.6 715.0,695.6 722.4,695.6 729.7,695.6 737.1,695.6 744.5,695.6 751.8,695.6 759.2,695.6 766.5,695.6 773.9,695.6 781.3,695.6 788.6,695.6 796.0,695.6 803.4,695.6 810.7,695.6 818.1,695.6 825.4,695.6 832.8,695.6 840.2,695.6 847.5,695.6 854.9,695.6 862.3,695.6 869.6,695.6 877.0,695.6 884.3,695.6 891.7,695.6 899.1,695.6 906.4,695.6 913.8,695.6 921.2,695.6 928.5,695.6 935.9,695.6 943.2,695.6 950.6,695.6 958.0,695.6 965.3,695.6 972.7,695.6 980.0,695.6 987.4,695.6 994.8,695.6 1002.1,695.6 1009.5,695.6 1016.9,695.6 1024.2,695.6 1031.6,695.6 1038.9,695.6 1046.3,695.6 1053.7,695.6 1061.0,695.6 1068.4,695.6 1075.8,695.6 1083.1,695.6 1090.5,695.6 1097.8,695.6 1105.2,695.6 1112.6,695.6 1119.9,695.6 1127.3,695.6 1134.7,695.6 1142.0,695.6 1149.4,695.6 1156.7,695.6 1164.1,695.6 1171.5,695.6 1178.8,695.6 1186.2,695.6 1193.5,695.6 1200.9,695.6 1208.3,695.6 1215.6,695.6 1223.0,695.6 1230.4,695.6 1237.7,695.6 1245.1,695.6 1252.4,695.6 1259.8,695.6 1267.2,695.6 1274.5,695.6 1281.9,695.6 1289.3,695.6 1296.6,695.6 1304.0,695.6 1311.3,695.6 1318.7,695.6 1326.1,695.6 1333.4,695.6 1340.8,695.6 1348.1,695.6 1355.5,695.6 1362.9,695.6 1370.2,695.6 1377.6,695.6 1385.0,695.6 1392.3,695.6 1399.7,695.6 1407.0,695.6 1414.4,695.6 1421.8,695.6 1429.1,695.6 1436.5,695.6 1443.9,695.6 1451.2,695.6 1458.6,695.6 1465.9,695.6 1473.3,695.6 1480.7,695.6 1488.0,695.6 1495.4,695.6 1502.8,695.6 1510.1,695.6 1517.5,695.6 1524.8,695.6 1532.2,695.6 1539.6,695.6 1546.9,695.6 1554.3,695.6 1561.6,695.6 1569.0,695.6 1576.4,695.6 1583.7,695.6 1591.1,695.6 1598.5,695.6 1605.8,695.6 1613.2,695.6 1620.5,695.6 1627.9,695.6 1635.3,695.6 1642.6,695.6 1650.0,695.6 1657.4,695.6 1664.7,695.6 1672.1,695.6 1679.4,695.6 1686.8,695.6 1694.2,695.6 1701.5,695.6 1708.9,695.6 1716.2,695.6 1723.6,695.6 1731.0,695.6 1738.3,695.6 1745.7,695.6 1753.1,695.6 1760.4,695.6 1767.8,695.6 1775.1,695.6 1782.5,695.6 1789.9,695.6 1797.2,695.6 1804.6,695.6 1812.0,695.6" fill="none" stroke="#4f8783" stroke-width="1" stroke-linejoin="round"/><polyline points="582.5,696.8 597.2,696.8 604.6,652.4" fill="none" stroke="#6b5b4e" stroke-width="1.6"/></svg>
<div class="a" style="left:473.8px;width:100px;text-align:right;top:537.5px;color:#6b6b6b">16000</div>
<div class="a" style="left:473.8px;width:100px;text-align:right;top:575.7px;color:#6b6b6b">12000</div>
<div class="a" style="left:473.8px;width:100px;text-align:right;top:613.8px;color:#6b6b6b">8000</div>
<div class="a" style="left:473.8px;width:100px;text-align:right;top:651.8px;color:#6b6b6b">4000</div>
<div class="a" style="left:545px;width:100px;text-align:center;top:714px;color:#6b6b6b">04-19 01:00</div>
<div class="a" style="left:657.6px;width:100px;text-align:center;top:714px;color:#6b6b6b">04-19 18:00</div>
<div class="a" style="left:782.8px;width:100px;text-align:center;top:714px;color:#6b6b6b">04-20 11:00</div>
<div class="a" style="left:908px;width:100px;text-align:center;top:714px;color:#6b6b6b">04-21 04:00</div>
<div class="a" style="left:1033.2px;width:100px;text-align:center;top:714px;color:#6b6b6b">04-21 21:00</div>
<div class="a" style="left:1158.4px;width:100px;text-align:center;top:714px;color:#6b6b6b">04-22 14:00</div>
<div class="a" style="left:1283.6px;width:100px;text-align:center;top:714px;color:#6b6b6b">04-23 07:00</div>
<div class="a" style="left:1408.8px;width:100px;text-align:center;top:714px;color:#6b6b6b">04-24 00:00</div>
<div class="a" style="left:1534px;width:100px;text-align:center;top:714px;color:#6b6b6b">04-24 17:00</div>
<div class="a" style="left:1711.5px;width:100px;text-align:right;top:714px;color:#6b6b6b">04-26 00:00</div>
<div class="a" style="left:483px;top:135px;width:1400px;height:765px;overflow:hidden"></div>
<div class="a" style="left:0;top:0;width:1885px;height:900px;overflow:hidden"><div class="a" style="left:523px;top:760px;width:1303px;height:200px;background:#fff;border:1px solid #dde1e6;border-radius:4px"></div><div class="a" style="left:524px;top:801px;width:1301px;height:1px;background:#dde1e6"></div><div class="a" style="left:524px;top:802px;width:1301px;height:39px;background:#f8f9fb"></div><div class="a" style="left:524px;top:841px;width:1301px;height:1px;background:#dde1e6"></div><div class="a" style="left:524px;top:881px;width:1301px;height:1px;background:#dde1e6"></div><div class="a" style="left:524px;top:882px;width:1301px;height:39px;background:#f8f9fb"></div><div class="a th" style="left:540px;top:775.1px">Resource Type</div><div class="a th" style="left:767.6px;top:775.1px">Maximum Usage</div><div class="a th" style="left:981.6px;top:775.1px">Minimum Usage</div><div class="a th" style="left:1191px;top:775.1px">Average Usage</div><div class="a th" style="left:1390.6px;top:775.1px">Total Consumption</div><div class="a th" style="left:1663px;top:775.1px">Cost</div><div class="a" style="left:1506px;top:774.4px;width:11.6px;height:11.6px;border-radius:6px;background:#bac4ce;color:#7b8898;font-size:9.5px;line-height:12px;text-align:center;font-weight:bold">?</div><div class="a" style="left:541px;top:819.6px;width:6.4px;height:6.4px;border-radius:4px;background:#5cb887"></div><div class="a td" style="left:555px;top:816.0px">CPU</div><div class="a td" style="left:767.6px;top:816.0px">9.387 Core</div><div class="a td" style="left:981.6px;top:816.0px">7.777 Core</div><div class="a td" style="left:1191px;top:816.0px">8.315 Core</div><div class="a td" style="left:1390.6px;top:816.0px">1371.915 Core</div><div class="a td" style="left:1663px;top:816.0px">$ 2057.87</div><div class="a" style="left:541px;top:859.7px;width:6.4px;height:6.4px;border-radius:4px;background:#3d9fd3"></div><div class="a td" style="left:555px;top:856.1px">Memory</div><div class="a td" style="left:767.6px;top:856.1px">26.466 Gi</div><div class="a td" style="left:981.6px;top:856.1px">22.44 Gi</div><div class="a td" style="left:1191px;top:856.1px">24.115 Gi</div><div class="a td" style="left:1390.6px;top:856.1px">3978.984 Gi</div><div class="a td" style="left:1663px;top:856.1px">$ 19894.92</div><div class="a" style="left:541px;top:899.8px;width:6.4px;height:6.4px;border-radius:4px;background:#f0ac4c"></div><div class="a td" style="left:555px;top:896.2px">Volume</div><div class="a td" style="left:767.6px;top:896.2px">2320.752 GB</div><div class="a td" style="left:981.6px;top:896.2px">1590.838 GB</div><div class="a td" style="left:1191px;top:896.2px">1651.326 GB</div><div class="a td" style="left:1390.6px;top:896.2px">273452.335 GB</div><div class="a td" style="left:1663px;top:896.2px">$ 544904.45</div></div>
<div class="a" style="left:1846px;top:135px;width:17px;height:765px;background:#f1f1f1"></div>
<div class="a" style="left:1848px;top:152px;width:13px;height:419px;background:#c1c1c1"></div>
<svg class="a" style="left:1846px;top:135px" width="17" height="765"><path d="M5 11 L8.5 6.8 L12 11 Z" fill="#a3a3a3"/><path d="M4.8 754 L12.4 754 L8.6 758 Z" fill="#505050"/></svg>
<div class="a" style="left:1883px;top:870px;width:2px;height:29px;background:#232d40"></div>

</body></html>
